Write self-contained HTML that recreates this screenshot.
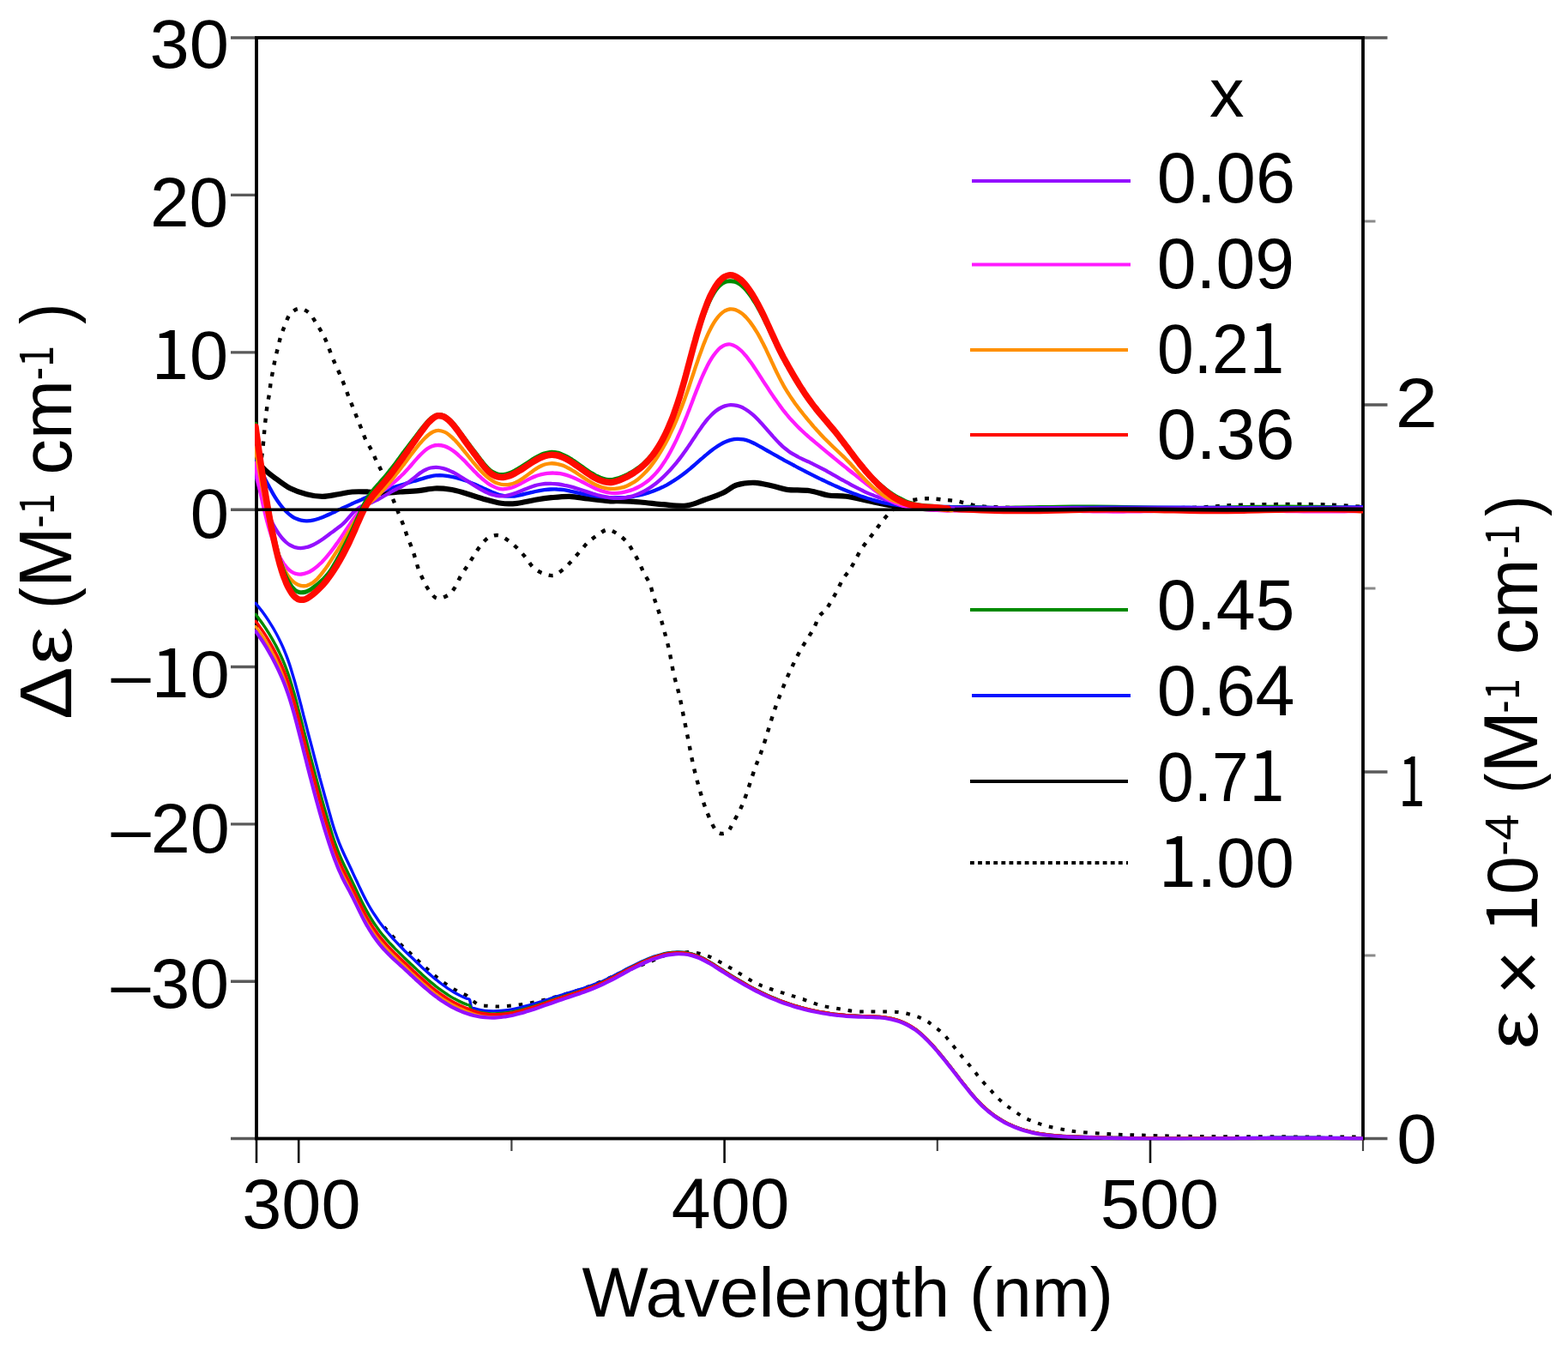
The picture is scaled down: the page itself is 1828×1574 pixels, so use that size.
<!DOCTYPE html><html><head><meta charset="utf-8"><title>CD and absorption spectra</title>
<style>html,body{margin:0;padding:0;background:#fff;width:1828px;height:1574px;overflow:hidden}svg{display:block}text{font-family:"Liberation Sans",Arial,Helvetica,sans-serif;fill:#000}</style></head><body>
<svg width="1828" height="1574" viewBox="0 0 1828 1574">
<rect width="1828" height="1574" fill="#fff"/>
<defs><clipPath id="pc"><rect x="297" y="44" width="1292" height="1285.5"/></clipPath></defs>
<path d="M269,44 H299 M269,227.4 H299 M269,410.9 H299 M269,594.2 H299 M269,777.5 H299 M269,960.9 H299 M269,1144.3 H299 M269,1327.5 H299 M1589,44 H1617.5 M1589,472 H1617.5 M1589,900 H1617.5 M1589,1327.5 H1617.5" stroke="#5a5a5a" stroke-width="3.4" fill="none"/>
<path d="M1589,258 H1603.5 M1589,686 H1603.5 M1589,1114 H1603.5" stroke="#8a8a8a" stroke-width="3" fill="none"/>
<path d="M299,1327.5 V1356 M348.2,1327.5 V1356 M844.6,1327.5 V1356 M1341,1327.5 V1356" stroke="#111" stroke-width="2.6" fill="none"/>
<path d="M596.4,1327.5 V1342 M1092.8,1327.5 V1342 M1589,1327.5 V1342" stroke="#444" stroke-width="2.2" fill="none"/>
<rect x="299" y="44" width="1290" height="1283.5" fill="none" stroke="#000" stroke-width="3.8"/>
<g clip-path="url(#pc)" fill="none" stroke-linejoin="round" stroke-linecap="butt">
<path d="M447.9,1080.7 C448.8,1081.8 451.6,1085.1 453.5,1087.2 C455.5,1089.3 457.4,1091.3 459.4,1093.4 C461.4,1095.4 463.5,1097.4 465.5,1099.5 C467.5,1101.5 469.6,1103.5 471.6,1105.4 C473.7,1107.3 475.7,1109.0 477.7,1110.8 C479.7,1112.7 481.8,1114.6 483.8,1116.5 C485.8,1118.4 487.8,1120.4 489.8,1122.3 C491.9,1124.2 493.9,1126.1 496.0,1127.9 C498.0,1129.8 500.1,1131.6 502.2,1133.4 C504.3,1135.3 506.4,1137.1 508.6,1138.8 C510.7,1140.6 512.9,1142.3 515.2,1144.0 C517.4,1145.6 519.7,1147.2 522.0,1148.8 C524.3,1150.3 526.6,1151.8 529.0,1153.2 C531.4,1154.6 533.9,1156.0 536.4,1157.3 C538.9,1158.5 540.6,1158.6 544.0,1160.8 C547.5,1163.1 552.7,1168.8 557.2,1170.8 C561.7,1172.8 566.2,1172.6 570.8,1173.0 C575.4,1173.4 579.3,1173.7 585.0,1173.4 C590.7,1173.2 598.3,1172.4 605.0,1171.5 C611.7,1170.6 618.3,1169.4 625.0,1168.0 C631.7,1166.6 638.4,1164.8 645.0,1163.0 C651.6,1161.2 657.9,1159.5 664.4,1157.5 C670.9,1155.5 677.4,1153.4 684.0,1151.0 C690.6,1148.6 696.1,1146.2 703.8,1143.0 C711.5,1139.8 721.2,1135.5 730.0,1132.0 C738.8,1128.5 748.8,1125.0 756.3,1122.0 C763.8,1119.0 768.9,1115.8 775.0,1114.0 C781.1,1112.2 787.8,1111.6 793.0,1111.0 C798.2,1110.4 801.7,1109.9 806.2,1110.2 C810.7,1110.5 815.6,1111.7 820.0,1113.0 C824.4,1114.3 826.5,1115.0 832.5,1118.0 C838.5,1121.0 848.1,1126.6 856.0,1131.2 C863.9,1135.8 872.8,1142.0 879.8,1145.6 C886.8,1149.2 891.9,1150.8 898.0,1153.0 C904.1,1155.2 910.2,1156.8 916.5,1158.8 C922.8,1160.8 929.4,1162.8 936.0,1165.0 C942.6,1167.2 949.2,1170.2 956.0,1172.0 C962.8,1173.8 970.0,1174.8 977.0,1176.0 C984.0,1177.2 990.8,1178.7 998.0,1179.3 C1005.2,1179.9 1011.7,1179.4 1020.0,1179.5 C1028.3,1179.6 1040.3,1179.2 1047.8,1180.0 C1055.3,1180.8 1059.9,1182.5 1065.0,1184.0 C1070.1,1185.5 1074.6,1187.2 1078.4,1189.2 C1082.2,1191.2 1084.6,1193.5 1088.0,1196.0 C1091.4,1198.5 1095.5,1201.5 1098.7,1204.5 C1101.9,1207.5 1104.2,1210.6 1107.0,1214.0 C1109.8,1217.4 1112.7,1221.1 1115.7,1224.8 C1118.7,1228.5 1121.9,1232.3 1125.0,1236.0 C1128.1,1239.7 1131.3,1243.2 1134.3,1246.9 C1137.3,1250.6 1139.9,1254.3 1143.0,1258.0 C1146.1,1261.7 1149.8,1265.4 1153.0,1268.9 C1156.2,1272.4 1158.9,1275.9 1162.0,1279.0 C1165.1,1282.1 1168.4,1284.9 1171.7,1287.6 C1175.0,1290.3 1178.3,1292.5 1182.0,1295.0 C1185.7,1297.5 1189.5,1300.5 1193.7,1302.8 C1197.9,1305.0 1202.5,1306.8 1207.0,1308.5 C1211.5,1310.2 1215.3,1311.6 1220.8,1313.0 C1226.3,1314.4 1233.8,1315.9 1240.0,1317.0 C1246.2,1318.1 1249.9,1319.0 1258.2,1319.8 C1266.5,1320.6 1279.8,1321.4 1290.0,1322.0 C1300.2,1322.6 1300.9,1322.7 1319.2,1323.2 C1337.5,1323.7 1355.0,1324.6 1400.0,1325.0 C1445.0,1325.4 1557.5,1325.4 1589.0,1325.5" stroke="#000" stroke-width="4" stroke-dasharray="4.6 9"/>
<path d="M298.0,703.3 C298.9,704.4 301.5,707.5 303.1,709.6 C304.8,711.7 306.5,713.9 308.1,716.2 C309.7,718.4 311.3,720.8 312.8,723.1 C314.3,725.5 315.8,727.9 317.3,730.4 C318.8,732.8 320.2,735.4 321.7,738.0 C323.1,740.6 324.5,743.3 325.8,746.0 C327.2,748.8 328.5,751.6 329.8,754.5 C331.1,757.4 332.3,760.5 333.5,763.5 C334.7,766.6 335.9,769.8 337.0,773.1 C338.1,776.3 339.1,779.6 340.1,782.9 C341.1,786.2 342.1,789.6 343.1,792.9 C344.0,796.3 345.0,799.7 345.9,803.1 C346.8,806.5 347.7,810.0 348.6,813.5 C349.5,816.9 350.4,820.4 351.3,823.8 C352.2,827.3 353.1,830.7 353.9,834.2 C354.8,837.6 355.7,841.1 356.6,844.5 C357.5,847.9 358.3,851.3 359.2,854.7 C360.1,858.1 361.0,861.5 361.9,864.9 C362.8,868.3 363.7,871.7 364.6,875.1 C365.5,878.5 366.4,882.0 367.3,885.6 C368.2,889.1 369.2,892.8 370.1,896.4 C371.0,900.0 372.0,903.5 372.9,907.1 C373.9,910.6 374.8,914.2 375.8,917.7 C376.8,921.2 377.7,924.7 378.7,928.2 C379.7,931.8 380.7,935.5 381.8,939.2 C382.8,942.9 383.8,946.8 384.9,950.5 C385.9,954.3 387.0,958.1 388.1,961.7 C389.2,965.3 390.3,968.8 391.5,972.1 C392.6,975.5 393.8,978.6 395.0,981.7 C396.3,984.8 397.5,987.8 398.8,990.8 C400.1,993.9 401.5,996.8 402.9,999.8 C404.3,1002.8 405.7,1005.7 407.2,1008.8 C408.6,1011.8 410.1,1015.0 411.5,1018.1 C412.9,1021.1 414.3,1024.1 415.7,1027.0 C417.1,1030.0 418.4,1032.9 419.8,1035.8 C421.1,1038.7 422.5,1041.5 423.9,1044.3 C425.3,1047.1 426.7,1049.8 428.2,1052.5 C429.6,1055.1 431.1,1057.7 432.7,1060.3 C434.2,1062.8 435.8,1065.3 437.5,1067.8 C439.1,1070.2 440.8,1072.7 442.5,1075.2 C444.3,1077.6 446.0,1079.9 447.9,1082.2 C449.7,1084.5 451.6,1086.8 453.5,1089.0 C455.5,1091.2 457.4,1093.4 459.4,1095.6 C461.4,1097.7 463.5,1099.9 465.5,1102.0 C467.5,1104.2 469.6,1106.3 471.6,1108.4 C473.7,1110.4 475.7,1112.2 477.7,1114.2 C479.7,1116.1 481.8,1118.1 483.8,1120.0 C485.8,1122.0 487.8,1123.9 489.8,1125.8 C491.9,1127.7 493.9,1129.6 496.0,1131.4 C498.0,1133.3 500.1,1135.1 502.2,1136.9 C504.3,1138.8 506.4,1140.6 508.6,1142.3 C510.7,1144.1 512.9,1145.8 515.2,1147.5 C517.4,1149.1 519.7,1150.7 522.0,1152.3 C524.3,1153.8 526.6,1155.3 529.0,1156.7 C531.4,1158.1 533.9,1159.5 536.4,1160.8 C538.9,1162.0 542.2,1163.5 544.0,1164.3 C545.9,1165.1 546.6,1163.9 547.5,1165.6 C548.4,1167.3 548.7,1173.1 549.5,1174.8 C550.3,1176.5 550.2,1175.2 552.1,1175.6 C554.0,1176.1 557.7,1177.1 560.6,1177.6 C563.5,1178.1 566.5,1178.5 569.7,1178.7 C572.8,1178.9 576.2,1178.9 579.4,1178.8 C582.6,1178.7 585.9,1178.4 589.0,1178.0 C592.1,1177.7 595.1,1177.2 598.0,1176.6 C601.0,1176.1 603.8,1175.4 606.7,1174.7 C609.5,1174.1 612.3,1173.3 615.1,1172.5 C617.9,1171.8 620.6,1170.9 623.3,1170.1 C626.0,1169.3 628.7,1168.4 631.4,1167.6 C634.1,1166.7 636.8,1165.8 639.4,1165.0 C642.1,1164.1 644.8,1163.2 647.4,1162.4 C650.1,1161.5 652.8,1160.7 655.5,1159.9 C658.2,1159.0 660.9,1158.2 663.6,1157.4 C666.3,1156.6 669.0,1155.8 671.7,1154.9 C674.4,1154.1 677.1,1153.2 679.8,1152.4 C682.4,1151.5 685.1,1150.6 687.8,1149.6 C690.4,1148.7 693.0,1147.7 695.6,1146.7 C698.2,1145.7 700.8,1144.6 703.4,1143.5 C705.9,1142.3 708.4,1141.1 710.9,1139.9 C713.4,1138.7 715.8,1137.4 718.2,1136.2 C720.7,1134.9 723.1,1133.6 725.5,1132.4 C727.9,1131.1 730.3,1129.8 732.7,1128.6 C735.1,1127.4 737.6,1126.1 740.0,1124.9 C742.4,1123.7 744.9,1122.5 747.4,1121.4 C749.8,1120.3 752.3,1119.2 754.9,1118.1 C757.4,1117.1 759.9,1116.1 762.5,1115.2 C765.1,1114.4 767.8,1113.5 770.5,1112.8 C773.2,1112.1 776.0,1111.5 778.9,1111.0 C781.7,1110.6 784.6,1110.2 787.7,1110.1 C790.8,1110.0 794.1,1110.1 797.3,1110.4 C800.5,1110.7 803.7,1111.4 806.7,1112.1 C809.7,1112.9 812.4,1114.0 815.1,1115.1 C817.8,1116.2 820.3,1117.6 822.8,1118.9 C825.3,1120.3 827.7,1121.7 830.1,1123.2 C832.4,1124.6 834.7,1126.1 837.1,1127.6 C839.4,1129.1 841.7,1130.5 844.0,1132.0 C846.3,1133.5 848.6,1134.9 850.9,1136.4 C853.2,1137.8 855.6,1139.2 857.9,1140.6 C860.2,1142.0 862.6,1143.5 865.0,1144.8 C867.3,1146.2 869.7,1147.6 872.1,1148.9 C874.5,1150.2 876.9,1151.5 879.3,1152.8 C881.7,1154.1 884.2,1155.3 886.6,1156.5 C889.1,1157.7 891.6,1158.9 894.1,1160.1 C896.6,1161.2 899.1,1162.3 901.7,1163.4 C904.2,1164.5 906.8,1165.5 909.4,1166.5 C912.0,1167.5 914.7,1168.5 917.3,1169.4 C920.0,1170.3 922.7,1171.2 925.4,1172.1 C928.1,1172.9 930.8,1173.7 933.6,1174.5 C936.4,1175.2 939.2,1176.0 942.0,1176.7 C944.9,1177.3 947.7,1178.0 950.6,1178.6 C953.5,1179.2 956.4,1179.8 959.4,1180.3 C962.3,1180.8 965.3,1181.3 968.3,1181.7 C971.3,1182.1 974.3,1182.5 977.4,1182.8 C980.5,1183.2 983.6,1183.5 986.7,1183.7 C989.9,1184.0 993.0,1184.2 996.2,1184.3 C999.4,1184.5 1002.7,1184.6 1005.9,1184.7 C1009.2,1184.8 1012.5,1184.8 1015.8,1184.9 C1019.0,1185.1 1022.3,1185.2 1025.5,1185.5 C1028.7,1185.8 1031.9,1186.2 1035.0,1186.7 C1038.0,1187.2 1041.0,1187.9 1043.9,1188.7 C1046.8,1189.5 1049.6,1190.5 1052.2,1191.6 C1054.9,1192.7 1057.5,1194.0 1060.0,1195.4 C1062.5,1196.8 1064.9,1198.3 1067.2,1200.0 C1069.5,1201.6 1071.7,1203.4 1073.8,1205.3 C1076.0,1207.1 1078.0,1209.1 1080.0,1211.0 C1082.1,1213.0 1084.0,1215.1 1086.0,1217.2 C1087.9,1219.3 1089.8,1221.4 1091.6,1223.6 C1093.5,1225.7 1095.3,1227.9 1097.2,1230.1 C1099.0,1232.4 1100.8,1234.6 1102.6,1236.8 C1104.3,1239.1 1106.1,1241.3 1107.9,1243.6 C1109.7,1245.8 1111.4,1248.1 1113.2,1250.4 C1114.9,1252.6 1116.7,1254.9 1118.4,1257.2 C1120.2,1259.4 1121.9,1261.7 1123.7,1263.9 C1125.4,1266.1 1127.2,1268.3 1129.0,1270.5 C1130.7,1272.7 1132.5,1274.9 1134.3,1277.0 C1136.2,1279.1 1138.0,1281.2 1139.8,1283.2 C1141.7,1285.2 1143.6,1287.1 1145.5,1289.0 C1147.5,1290.9 1149.5,1292.7 1151.5,1294.4 C1153.6,1296.1 1155.7,1297.8 1157.8,1299.4 C1160.0,1300.9 1162.2,1302.4 1164.4,1303.8 C1166.7,1305.3 1169.0,1306.6 1171.3,1307.9 C1173.7,1309.2 1176.1,1310.4 1178.6,1311.5 C1181.1,1312.7 1183.6,1313.7 1186.2,1314.7 C1188.8,1315.7 1191.4,1316.6 1194.1,1317.4 C1196.8,1318.2 1199.5,1318.9 1202.3,1319.6 C1205.1,1320.3 1208.0,1320.9 1210.9,1321.4 C1213.8,1321.9 1216.8,1322.3 1219.8,1322.7 C1222.8,1323.1 1225.9,1323.4 1229.0,1323.7 C1232.1,1324.0 1235.3,1324.2 1238.5,1324.4 C1241.6,1324.5 1244.9,1324.7 1248.1,1324.8 C1251.3,1324.9 1254.6,1325.1 1257.8,1325.2 C1261.1,1325.3 1264.3,1325.4 1267.6,1325.5 C1270.8,1325.6 1274.1,1325.7 1277.4,1325.8 C1280.6,1325.9 1283.9,1326.0 1287.2,1326.1 C1290.4,1326.1 1293.7,1326.2 1297.0,1326.3 C1300.3,1326.3 1303.6,1326.4 1306.9,1326.4 C1310.2,1326.5 1313.5,1326.5 1316.8,1326.6 C1320.1,1326.6 1323.4,1326.7 1326.7,1326.7 C1330.0,1326.7 1333.3,1326.8 1336.6,1326.8 C1339.9,1326.8 1343.3,1326.8 1346.6,1326.8 C1349.9,1326.9 1353.2,1326.9 1356.6,1326.9 C1359.9,1326.9 1363.2,1326.9 1366.5,1326.9 C1369.9,1326.9 1373.2,1326.9 1376.5,1326.9 C1379.9,1326.9 1383.2,1326.9 1386.5,1326.9 C1389.9,1326.9 1393.2,1326.9 1396.5,1326.8 C1399.8,1326.8 1403.1,1326.8 1406.5,1326.8 C1409.8,1326.8 1413.1,1326.8 1416.4,1326.8 C1419.8,1326.7 1423.1,1326.7 1426.4,1326.7 C1429.7,1326.7 1433.0,1326.7 1436.3,1326.6 C1439.7,1326.6 1443.0,1326.6 1446.3,1326.6 C1449.6,1326.5 1452.9,1326.5 1456.2,1326.5 C1459.6,1326.5 1462.9,1326.5 1466.2,1326.4 C1469.5,1326.4 1472.8,1326.4 1476.1,1326.4 C1479.5,1326.4 1482.8,1326.4 1486.1,1326.3 C1489.4,1326.3 1492.7,1326.3 1496.1,1326.3 C1499.4,1326.3 1502.7,1326.3 1506.0,1326.3 C1509.4,1326.3 1512.7,1326.3 1516.0,1326.3 C1519.4,1326.3 1522.7,1326.3 1526.0,1326.3 C1529.4,1326.3 1532.7,1326.3 1536.0,1326.3 C1539.3,1326.4 1542.7,1326.4 1546.0,1326.4 C1549.3,1326.4 1552.6,1326.5 1555.9,1326.5 C1559.3,1326.5 1562.6,1326.6 1565.9,1326.6 C1569.2,1326.7 1572.5,1326.7 1575.8,1326.7 C1579.1,1326.8 1583.5,1326.9 1585.7,1326.9 C1587.9,1327.0 1588.4,1327.0 1589.0,1327.0" stroke="#0514ff" stroke-width="3.4" stroke-linecap="round"/>
<path d="M298.0,716.4 C298.9,717.5 301.5,720.8 303.1,723.1 C304.8,725.3 306.5,727.7 308.1,730.1 C309.7,732.4 311.3,734.9 312.8,737.4 C314.3,739.8 315.8,742.4 317.3,744.9 C318.8,747.5 320.2,750.2 321.7,752.9 C323.1,755.6 324.5,758.3 325.8,761.1 C327.2,764.0 328.5,766.9 329.8,769.9 C331.1,772.9 332.3,775.9 333.5,779.1 C334.7,782.3 335.9,785.5 337.0,788.8 C338.1,792.1 339.1,795.5 340.1,798.8 C341.1,802.2 342.1,805.6 343.1,809.0 C344.0,812.4 345.0,815.9 345.9,819.3 C346.8,822.8 347.7,826.3 348.6,829.8 C349.5,833.2 350.4,836.7 351.3,840.2 C352.2,843.7 353.1,847.2 353.9,850.6 C354.8,854.1 355.7,857.6 356.6,861.0 C357.5,864.5 358.3,867.9 359.2,871.3 C360.1,874.8 361.0,878.2 361.9,881.6 C362.8,885.0 363.7,888.4 364.6,891.9 C365.5,895.3 366.4,898.8 367.3,902.2 C368.2,905.7 369.2,909.3 370.1,912.8 C371.0,916.3 372.0,919.8 372.9,923.3 C373.9,926.8 374.8,930.2 375.8,933.7 C376.8,937.1 377.7,940.5 378.7,944.0 C379.7,947.4 380.7,950.9 381.8,954.4 C382.8,958.0 383.8,961.5 384.9,965.0 C385.9,968.6 387.0,972.1 388.1,975.5 C389.2,978.9 390.3,982.2 391.5,985.4 C392.6,988.6 393.8,991.6 395.0,994.6 C396.3,997.7 397.5,1000.6 398.8,1003.5 C400.1,1006.4 401.5,1009.2 402.9,1012.1 C404.3,1015.0 405.7,1017.8 407.2,1020.7 C408.6,1023.6 410.1,1026.6 411.5,1029.6 C412.9,1032.5 414.3,1035.5 415.7,1038.4 C417.1,1041.3 418.4,1044.2 419.8,1047.0 C421.1,1049.9 422.5,1052.7 423.9,1055.4 C425.3,1058.1 426.7,1060.8 428.2,1063.4 C429.6,1066.0 431.1,1068.6 432.7,1071.1 C434.2,1073.6 435.8,1076.0 437.5,1078.4 C439.1,1080.8 440.8,1083.2 442.5,1085.5 C444.3,1087.8 446.0,1090.0 447.9,1092.2 C449.7,1094.4 451.6,1096.5 453.5,1098.6 C455.5,1100.7 457.4,1102.8 459.4,1104.8 C461.4,1106.9 463.5,1108.9 465.5,1110.9 C467.5,1112.9 469.6,1115.0 471.6,1116.9 C473.7,1118.9 475.7,1120.8 477.7,1122.7 C479.7,1124.6 481.8,1126.5 483.8,1128.4 C485.8,1130.4 487.8,1132.3 489.8,1134.1 C491.9,1136.0 493.9,1137.9 496.0,1139.7 C498.0,1141.5 500.1,1143.3 502.2,1145.1 C504.3,1146.8 506.4,1148.6 508.6,1150.3 C510.7,1152.0 512.9,1153.6 515.2,1155.2 C517.4,1156.8 519.7,1158.4 522.0,1159.8 C524.3,1161.3 526.6,1162.7 529.0,1164.1 C531.4,1165.4 533.9,1166.7 536.4,1167.9 C538.9,1169.1 542.2,1170.5 544.0,1171.2 C545.9,1172.0 546.6,1171.3 547.5,1172.4 C548.4,1173.5 548.7,1176.7 549.5,1177.7 C550.3,1178.7 550.2,1178.1 552.1,1178.5 C554.0,1179.0 557.7,1180.0 560.6,1180.5 C563.5,1181.0 566.5,1181.4 569.7,1181.6 C572.8,1181.8 576.2,1181.9 579.4,1181.8 C582.6,1181.7 585.9,1181.4 589.0,1181.0 C592.1,1180.7 595.1,1180.2 598.0,1179.6 C601.0,1179.0 603.8,1178.3 606.7,1177.6 C609.5,1176.9 612.3,1176.1 615.1,1175.3 C617.9,1174.5 620.6,1173.6 623.3,1172.8 C626.0,1171.9 628.7,1171.0 631.4,1170.1 C634.1,1169.2 636.8,1168.3 639.4,1167.4 C642.1,1166.5 644.8,1165.6 647.4,1164.7 C650.1,1163.8 652.8,1162.9 655.5,1162.0 C658.2,1161.2 660.9,1160.3 663.6,1159.5 C666.3,1158.6 669.0,1157.7 671.7,1156.9 C674.4,1156.0 677.1,1155.1 679.8,1154.2 C682.4,1153.2 685.1,1152.3 687.8,1151.3 C690.4,1150.3 693.0,1149.3 695.6,1148.3 C698.2,1147.2 700.8,1146.1 703.4,1144.9 C705.9,1143.7 708.4,1142.5 710.9,1141.2 C713.4,1140.0 715.8,1138.7 718.2,1137.4 C720.7,1136.1 723.1,1134.8 725.5,1133.5 C727.9,1132.2 730.3,1130.9 732.7,1129.6 C735.1,1128.3 737.6,1127.0 740.0,1125.8 C742.4,1124.6 744.9,1123.4 747.4,1122.2 C749.8,1121.0 752.3,1119.9 754.9,1118.8 C757.4,1117.8 759.9,1116.7 762.5,1115.8 C765.1,1114.9 767.8,1114.0 770.5,1113.3 C773.2,1112.5 776.0,1111.8 778.9,1111.3 C781.7,1110.8 784.6,1110.4 787.7,1110.3 C790.8,1110.1 794.1,1110.1 797.3,1110.4 C800.5,1110.7 803.7,1111.4 806.7,1112.1 C809.7,1112.9 812.4,1114.0 815.1,1115.1 C817.8,1116.2 820.3,1117.6 822.8,1118.9 C825.3,1120.3 827.7,1121.7 830.1,1123.2 C832.4,1124.6 834.7,1126.1 837.1,1127.6 C839.4,1129.1 841.7,1130.5 844.0,1132.0 C846.3,1133.5 848.6,1134.9 850.9,1136.4 C853.2,1137.8 855.6,1139.2 857.9,1140.6 C860.2,1142.0 862.6,1143.5 865.0,1144.8 C867.3,1146.2 869.7,1147.6 872.1,1148.9 C874.5,1150.2 876.9,1151.5 879.3,1152.8 C881.7,1154.1 884.2,1155.3 886.6,1156.5 C889.1,1157.7 891.6,1158.9 894.1,1160.1 C896.6,1161.2 899.1,1162.3 901.7,1163.4 C904.2,1164.5 906.8,1165.5 909.4,1166.5 C912.0,1167.5 914.7,1168.5 917.3,1169.4 C920.0,1170.3 922.7,1171.2 925.4,1172.1 C928.1,1172.9 930.8,1173.7 933.6,1174.5 C936.4,1175.2 939.2,1176.0 942.0,1176.7 C944.9,1177.3 947.7,1178.0 950.6,1178.6 C953.5,1179.2 956.4,1179.8 959.4,1180.3 C962.3,1180.8 965.3,1181.3 968.3,1181.7 C971.3,1182.1 974.3,1182.5 977.4,1182.8 C980.5,1183.2 983.6,1183.5 986.7,1183.7 C989.9,1184.0 993.0,1184.2 996.2,1184.3 C999.4,1184.5 1002.7,1184.6 1005.9,1184.7 C1009.2,1184.8 1012.5,1184.8 1015.8,1184.9 C1019.0,1185.1 1022.3,1185.2 1025.5,1185.5 C1028.7,1185.8 1031.9,1186.2 1035.0,1186.7 C1038.0,1187.2 1041.0,1187.9 1043.9,1188.7 C1046.8,1189.5 1049.6,1190.5 1052.2,1191.6 C1054.9,1192.7 1057.5,1194.0 1060.0,1195.4 C1062.5,1196.8 1064.9,1198.3 1067.2,1200.0 C1069.5,1201.6 1071.7,1203.4 1073.8,1205.3 C1076.0,1207.1 1078.0,1209.1 1080.0,1211.1 C1082.1,1213.1 1084.0,1215.1 1086.0,1217.2 C1087.9,1219.3 1089.8,1221.4 1091.6,1223.6 C1093.5,1225.8 1095.3,1228.0 1097.2,1230.2 C1099.0,1232.4 1100.8,1234.6 1102.6,1236.9 C1104.3,1239.1 1106.1,1241.4 1107.9,1243.6 C1109.7,1245.9 1111.4,1248.2 1113.2,1250.4 C1114.9,1252.7 1116.7,1254.9 1118.4,1257.2 C1120.2,1259.5 1121.9,1261.7 1123.7,1263.9 C1125.4,1266.2 1127.2,1268.4 1129.0,1270.6 C1130.7,1272.7 1132.5,1274.9 1134.3,1277.0 C1136.2,1279.1 1138.0,1281.2 1139.8,1283.2 C1141.7,1285.2 1143.6,1287.2 1145.5,1289.1 C1147.5,1290.9 1149.5,1292.7 1151.5,1294.5 C1153.6,1296.2 1155.7,1297.8 1157.8,1299.4 C1160.0,1301.0 1162.2,1302.5 1164.4,1303.9 C1166.7,1305.3 1169.0,1306.7 1171.3,1308.0 C1173.7,1309.3 1176.1,1310.5 1178.6,1311.6 C1181.1,1312.7 1183.6,1313.8 1186.2,1314.8 C1188.8,1315.7 1191.4,1316.6 1194.1,1317.5 C1196.8,1318.3 1199.5,1319.0 1202.3,1319.7 C1205.1,1320.3 1208.0,1320.9 1210.9,1321.5 C1213.8,1322.0 1216.8,1322.4 1219.8,1322.8 C1222.8,1323.2 1225.9,1323.5 1229.0,1323.8 C1232.1,1324.0 1235.3,1324.2 1238.5,1324.4 C1241.6,1324.6 1244.9,1324.8 1248.1,1324.9 C1251.3,1325.0 1254.6,1325.1 1257.8,1325.3 C1261.1,1325.4 1264.3,1325.5 1267.6,1325.6 C1270.8,1325.7 1274.1,1325.8 1277.4,1325.9 C1280.6,1326.0 1283.9,1326.1 1287.2,1326.2 C1290.4,1326.2 1293.7,1326.3 1297.0,1326.4 C1300.3,1326.4 1303.6,1326.5 1306.9,1326.5 C1310.2,1326.6 1313.5,1326.7 1316.8,1326.7 C1320.1,1326.7 1323.4,1326.8 1326.7,1326.8 C1330.0,1326.8 1333.3,1326.9 1336.6,1326.9 C1339.9,1326.9 1343.3,1326.9 1346.6,1327.0 C1349.9,1327.0 1353.2,1327.0 1356.6,1327.0 C1359.9,1327.0 1363.2,1327.0 1366.5,1327.0 C1369.9,1327.0 1373.2,1327.0 1376.5,1327.0 C1379.9,1327.0 1383.2,1327.0 1386.5,1327.0 C1389.9,1327.0 1393.2,1327.0 1396.5,1327.0 C1399.8,1327.0 1403.1,1327.0 1406.5,1326.9 C1409.8,1326.9 1413.1,1326.9 1416.4,1326.9 C1419.8,1326.9 1423.1,1326.9 1426.4,1326.8 C1429.7,1326.8 1433.0,1326.8 1436.3,1326.8 C1439.7,1326.8 1443.0,1326.7 1446.3,1326.7 C1449.6,1326.7 1452.9,1326.7 1456.2,1326.7 C1459.6,1326.6 1462.9,1326.6 1466.2,1326.6 C1469.5,1326.6 1472.8,1326.6 1476.1,1326.6 C1479.5,1326.5 1482.8,1326.5 1486.1,1326.5 C1489.4,1326.5 1492.7,1326.5 1496.1,1326.5 C1499.4,1326.5 1502.7,1326.5 1506.0,1326.5 C1509.4,1326.5 1512.7,1326.5 1516.0,1326.5 C1519.4,1326.5 1522.7,1326.5 1526.0,1326.5 C1529.4,1326.5 1532.7,1326.5 1536.0,1326.5 C1539.3,1326.5 1542.7,1326.6 1546.0,1326.6 C1549.3,1326.6 1552.6,1326.6 1555.9,1326.7 C1559.3,1326.7 1562.6,1326.8 1565.9,1326.8 C1569.2,1326.8 1572.5,1326.9 1575.8,1326.9 C1579.1,1327.0 1583.5,1327.1 1585.7,1327.1 C1587.9,1327.2 1588.4,1327.2 1589.0,1327.2" stroke="#008a00" stroke-width="3.4" stroke-linecap="round"/>
<path d="M298.0,730.5 C298.9,731.7 301.5,735.2 303.1,737.6 C304.8,740.0 306.5,742.5 308.1,745.0 C309.7,747.5 311.3,750.0 312.8,752.7 C314.3,755.3 315.8,757.9 317.3,760.6 C318.8,763.3 320.2,766.1 321.7,768.9 C323.1,771.7 324.5,774.5 325.8,777.4 C327.2,780.3 328.5,783.3 329.8,786.4 C331.1,789.4 332.3,792.6 333.5,795.8 C334.7,799.1 335.9,802.4 337.0,805.8 C338.1,809.1 339.1,812.5 340.1,816.0 C341.1,819.4 342.1,822.9 343.1,826.3 C344.0,829.8 345.0,833.3 345.9,836.8 C346.8,840.3 347.7,843.8 348.6,847.3 C349.5,850.8 350.4,854.3 351.3,857.8 C352.2,861.3 353.1,864.8 353.9,868.3 C354.8,871.8 355.7,875.3 356.6,878.8 C357.5,882.3 358.3,885.7 359.2,889.2 C360.1,892.7 361.0,896.1 361.9,899.6 C362.8,903.0 363.7,906.4 364.6,909.9 C365.5,913.3 366.4,916.8 367.3,920.2 C368.2,923.6 369.2,927.1 370.1,930.5 C371.0,933.9 372.0,937.3 372.9,940.7 C373.9,944.1 374.8,947.5 375.8,950.8 C376.8,954.2 377.7,957.5 378.7,960.8 C379.7,964.2 380.7,967.5 381.8,970.8 C382.8,974.1 383.8,977.4 384.9,980.7 C385.9,983.9 387.0,987.2 388.1,990.3 C389.2,993.5 390.3,996.6 391.5,999.7 C392.6,1002.7 393.8,1005.7 395.0,1008.6 C396.3,1011.5 397.5,1014.3 398.8,1017.1 C400.1,1019.9 401.5,1022.6 402.9,1025.3 C404.3,1028.1 405.7,1030.7 407.2,1033.5 C408.6,1036.3 410.1,1039.1 411.5,1042.0 C412.9,1044.8 414.3,1047.7 415.7,1050.6 C417.1,1053.4 418.4,1056.3 419.8,1059.1 C421.1,1061.9 422.5,1064.6 423.9,1067.3 C425.3,1070.0 426.7,1072.6 428.2,1075.2 C429.6,1077.7 431.1,1080.2 432.7,1082.7 C434.2,1085.1 435.8,1087.5 437.5,1089.8 C439.1,1092.1 440.8,1094.4 442.5,1096.6 C444.3,1098.8 446.0,1100.9 447.9,1102.9 C449.7,1105.0 451.6,1107.0 453.5,1109.0 C455.5,1111.0 457.4,1112.9 459.4,1114.8 C461.4,1116.7 463.5,1118.6 465.5,1120.5 C467.5,1122.4 469.6,1124.3 471.6,1126.2 C473.7,1128.0 475.7,1129.9 477.7,1131.8 C479.7,1133.7 481.8,1135.6 483.8,1137.5 C485.8,1139.4 487.8,1141.3 489.8,1143.1 C491.9,1144.9 493.9,1146.8 496.0,1148.6 C498.0,1150.3 500.1,1152.1 502.2,1153.8 C504.3,1155.5 506.4,1157.2 508.6,1158.8 C510.7,1160.5 512.9,1162.0 515.2,1163.6 C517.4,1165.1 519.7,1166.5 522.0,1167.9 C524.3,1169.3 526.6,1170.7 529.0,1172.0 C531.4,1173.2 533.9,1174.4 536.4,1175.5 C538.9,1176.7 541.4,1177.7 544.0,1178.6 C546.7,1179.5 549.3,1180.3 552.1,1181.0 C554.9,1181.7 557.7,1182.4 560.6,1182.9 C563.5,1183.4 566.5,1183.7 569.7,1183.9 C572.8,1184.1 576.2,1184.1 579.4,1184.0 C582.6,1183.8 585.9,1183.5 589.0,1183.1 C592.1,1182.7 595.1,1182.2 598.0,1181.6 C601.0,1181.0 603.8,1180.3 606.7,1179.6 C609.5,1178.8 612.3,1178.0 615.1,1177.2 C617.9,1176.3 620.6,1175.4 623.3,1174.5 C626.0,1173.6 628.7,1172.7 631.4,1171.8 C634.1,1170.9 636.8,1169.9 639.4,1169.0 C642.1,1168.0 644.8,1167.1 647.4,1166.2 C650.1,1165.3 652.8,1164.4 655.5,1163.5 C658.2,1162.6 660.9,1161.7 663.6,1160.8 C666.3,1159.9 669.0,1159.0 671.7,1158.1 C674.4,1157.2 677.1,1156.3 679.8,1155.4 C682.4,1154.4 685.1,1153.4 687.8,1152.4 C690.4,1151.4 693.0,1150.4 695.6,1149.3 C698.2,1148.2 700.8,1147.1 703.4,1145.9 C705.9,1144.7 708.4,1143.5 710.9,1142.2 C713.4,1141.0 715.8,1139.7 718.2,1138.4 C720.7,1137.1 723.1,1135.8 725.5,1134.5 C727.9,1133.2 730.3,1131.9 732.7,1130.6 C735.1,1129.3 737.6,1128.0 740.0,1126.8 C742.4,1125.6 744.9,1124.4 747.4,1123.2 C749.8,1122.0 752.3,1120.9 754.9,1119.8 C757.4,1118.8 759.9,1117.7 762.5,1116.8 C765.1,1115.9 767.8,1115.0 770.5,1114.3 C773.2,1113.5 776.0,1112.8 778.9,1112.3 C781.7,1111.8 784.6,1111.4 787.7,1111.3 C790.8,1111.1 794.1,1111.1 797.3,1111.4 C800.5,1111.7 803.7,1112.3 806.7,1113.1 C809.7,1113.9 812.4,1114.9 815.1,1116.0 C817.8,1117.2 820.3,1118.5 822.8,1119.8 C825.3,1121.2 827.7,1122.6 830.1,1124.0 C832.4,1125.5 834.7,1127.0 837.1,1128.4 C839.4,1129.9 841.7,1131.4 844.0,1132.8 C846.3,1134.3 848.6,1135.7 850.9,1137.2 C853.2,1138.6 855.6,1140.0 857.9,1141.4 C860.2,1142.8 862.6,1144.2 865.0,1145.6 C867.3,1146.9 869.7,1148.3 872.1,1149.6 C874.5,1150.9 876.9,1152.2 879.3,1153.5 C881.7,1154.8 884.2,1156.0 886.6,1157.2 C889.1,1158.4 891.6,1159.6 894.1,1160.7 C896.6,1161.9 899.1,1163.0 901.7,1164.0 C904.2,1165.1 906.8,1166.1 909.4,1167.1 C912.0,1168.1 914.7,1169.0 917.3,1170.0 C920.0,1170.9 922.7,1171.8 925.4,1172.6 C928.1,1173.4 930.8,1174.2 933.6,1175.0 C936.4,1175.7 939.2,1176.5 942.0,1177.1 C944.9,1177.8 947.7,1178.4 950.6,1179.0 C953.5,1179.6 956.4,1180.2 959.4,1180.7 C962.3,1181.2 965.3,1181.6 968.3,1182.1 C971.3,1182.5 974.3,1182.8 977.4,1183.2 C980.5,1183.5 983.6,1183.8 986.7,1184.0 C989.9,1184.3 993.0,1184.5 996.2,1184.6 C999.4,1184.8 1002.7,1184.8 1005.9,1184.9 C1009.2,1185.0 1012.5,1185.1 1015.8,1185.2 C1019.0,1185.3 1022.3,1185.5 1025.5,1185.8 C1028.7,1186.1 1031.9,1186.4 1035.0,1187.0 C1038.0,1187.5 1041.0,1188.2 1043.9,1189.0 C1046.8,1189.8 1049.6,1190.8 1052.2,1191.9 C1054.9,1193.0 1057.5,1194.3 1060.0,1195.6 C1062.5,1197.0 1064.9,1198.6 1067.2,1200.2 C1069.5,1201.9 1071.7,1203.7 1073.8,1205.5 C1076.0,1207.4 1078.0,1209.3 1080.0,1211.3 C1082.1,1213.3 1084.0,1215.4 1086.0,1217.5 C1087.9,1219.6 1089.8,1221.7 1091.6,1223.9 C1093.5,1226.0 1095.3,1228.2 1097.2,1230.4 C1099.0,1232.6 1100.8,1234.9 1102.6,1237.1 C1104.3,1239.4 1106.1,1241.6 1107.9,1243.9 C1109.7,1246.1 1111.4,1248.4 1113.2,1250.7 C1114.9,1252.9 1116.7,1255.2 1118.4,1257.5 C1120.2,1259.7 1121.9,1262.0 1123.7,1264.2 C1125.4,1266.4 1127.2,1268.6 1129.0,1270.8 C1130.7,1273.0 1132.5,1275.2 1134.3,1277.3 C1136.2,1279.4 1138.0,1281.5 1139.8,1283.5 C1141.7,1285.5 1143.6,1287.4 1145.5,1289.3 C1147.5,1291.2 1149.5,1293.0 1151.5,1294.7 C1153.6,1296.4 1155.7,1298.1 1157.8,1299.7 C1160.0,1301.2 1162.2,1302.7 1164.4,1304.2 C1166.7,1305.6 1169.0,1307.0 1171.3,1308.2 C1173.7,1309.5 1176.1,1310.7 1178.6,1311.9 C1181.1,1313.0 1183.6,1314.0 1186.2,1315.0 C1188.8,1316.0 1191.4,1316.9 1194.1,1317.7 C1196.8,1318.5 1199.5,1319.3 1202.3,1319.9 C1205.1,1320.6 1208.0,1321.2 1210.9,1321.7 C1213.8,1322.2 1216.8,1322.7 1219.8,1323.1 C1222.8,1323.4 1225.9,1323.8 1229.0,1324.0 C1232.1,1324.3 1235.3,1324.5 1238.5,1324.7 C1241.6,1324.9 1244.9,1325.0 1248.1,1325.2 C1251.3,1325.3 1254.6,1325.4 1257.8,1325.5 C1261.1,1325.7 1264.3,1325.8 1267.6,1325.9 C1270.8,1326.0 1274.1,1326.1 1277.4,1326.2 C1280.6,1326.3 1283.9,1326.3 1287.2,1326.4 C1290.4,1326.5 1293.7,1326.6 1297.0,1326.6 C1300.3,1326.7 1303.6,1326.8 1306.9,1326.8 C1310.2,1326.9 1313.5,1326.9 1316.8,1327.0 C1320.1,1327.0 1323.4,1327.1 1326.7,1327.1 C1330.0,1327.1 1333.3,1327.2 1336.6,1327.2 C1339.9,1327.2 1343.3,1327.2 1346.6,1327.2 C1349.9,1327.3 1353.2,1327.3 1356.6,1327.3 C1359.9,1327.3 1363.2,1327.3 1366.5,1327.3 C1369.9,1327.3 1373.2,1327.3 1376.5,1327.3 C1379.9,1327.3 1383.2,1327.3 1386.5,1327.3 C1389.9,1327.3 1393.2,1327.3 1396.5,1327.3 C1399.8,1327.3 1403.1,1327.2 1406.5,1327.2 C1409.8,1327.2 1413.1,1327.2 1416.4,1327.2 C1419.8,1327.2 1423.1,1327.1 1426.4,1327.1 C1429.7,1327.1 1433.0,1327.1 1436.3,1327.1 C1439.7,1327.0 1443.0,1327.0 1446.3,1327.0 C1449.6,1327.0 1452.9,1327.0 1456.2,1326.9 C1459.6,1326.9 1462.9,1326.9 1466.2,1326.9 C1469.5,1326.9 1472.8,1326.9 1476.1,1326.8 C1479.5,1326.8 1482.8,1326.8 1486.1,1326.8 C1489.4,1326.8 1492.7,1326.8 1496.1,1326.8 C1499.4,1326.8 1502.7,1326.8 1506.0,1326.8 C1509.4,1326.8 1512.7,1326.8 1516.0,1326.8 C1519.4,1326.8 1522.7,1326.8 1526.0,1326.8 C1529.4,1326.8 1532.7,1326.8 1536.0,1326.8 C1539.3,1326.8 1542.7,1326.9 1546.0,1326.9 C1549.3,1326.9 1552.6,1326.9 1555.9,1327.0 C1559.3,1327.0 1562.6,1327.1 1565.9,1327.1 C1569.2,1327.1 1572.5,1327.2 1575.8,1327.2 C1579.1,1327.3 1583.5,1327.4 1585.7,1327.4 C1587.9,1327.5 1588.4,1327.5 1589.0,1327.5" stroke="#ff9000" stroke-width="3.4" stroke-linecap="round"/>
<path d="M298.0,724.3 C298.9,725.4 301.5,728.8 303.1,731.2 C304.8,733.5 306.5,735.9 308.1,738.4 C309.7,740.8 311.3,743.3 312.8,745.9 C314.3,748.4 315.8,751.0 317.3,753.7 C318.8,756.3 320.2,759.0 321.7,761.8 C323.1,764.5 324.5,767.3 325.8,770.2 C327.2,773.1 328.5,776.0 329.8,779.1 C331.1,782.1 332.3,785.2 333.5,788.4 C334.7,791.6 335.9,794.9 337.0,798.3 C338.1,801.6 339.1,805.0 340.1,808.4 C341.1,811.8 342.1,815.2 343.1,818.7 C344.0,822.1 345.0,825.6 345.9,829.1 C346.8,832.5 347.7,836.0 348.6,839.5 C349.5,843.0 350.4,846.5 351.3,850.0 C352.2,853.5 353.1,857.0 353.9,860.5 C354.8,864.0 355.7,867.5 356.6,870.9 C357.5,874.4 358.3,877.9 359.2,881.3 C360.1,884.8 361.0,888.2 361.9,891.6 C362.8,895.1 363.7,898.5 364.6,901.9 C365.5,905.4 366.4,908.8 367.3,912.3 C368.2,915.7 369.2,919.2 370.1,922.7 C371.0,926.1 372.0,929.6 372.9,933.0 C373.9,936.5 374.8,939.9 375.8,943.3 C376.8,946.6 377.7,950.0 378.7,953.4 C379.7,956.8 380.7,960.2 381.8,963.6 C382.8,967.0 383.8,970.4 384.9,973.8 C385.9,977.1 387.0,980.5 388.1,983.8 C389.2,987.0 390.3,990.3 391.5,993.4 C392.6,996.5 393.8,999.5 395.0,1002.4 C396.3,1005.4 397.5,1008.3 398.8,1011.1 C400.1,1014.0 401.5,1016.7 402.9,1019.5 C404.3,1022.3 405.7,1025.0 407.2,1027.8 C408.6,1030.7 410.1,1033.6 411.5,1036.5 C412.9,1039.4 414.3,1042.3 415.7,1045.2 C417.1,1048.1 418.4,1051.0 419.8,1053.8 C421.1,1056.6 422.5,1059.3 423.9,1062.0 C425.3,1064.7 426.7,1067.4 428.2,1070.0 C429.6,1072.5 431.1,1075.1 432.7,1077.5 C434.2,1080.0 435.8,1082.4 437.5,1084.7 C439.1,1087.1 440.8,1089.4 442.5,1091.7 C444.3,1093.9 446.0,1096.1 447.9,1098.2 C449.7,1100.3 451.6,1102.4 453.5,1104.4 C455.5,1106.5 457.4,1108.4 459.4,1110.4 C461.4,1112.4 463.5,1114.3 465.5,1116.3 C467.5,1118.2 469.6,1120.2 471.6,1122.1 C473.7,1124.0 475.7,1125.9 477.7,1127.8 C479.7,1129.7 481.8,1131.6 483.8,1133.5 C485.8,1135.4 487.8,1137.3 489.8,1139.1 C491.9,1141.0 493.9,1142.8 496.0,1144.6 C498.0,1146.4 500.1,1148.2 502.2,1150.0 C504.3,1151.7 506.4,1153.4 508.6,1155.1 C510.7,1156.7 512.9,1158.3 515.2,1159.9 C517.4,1161.4 519.7,1162.9 522.0,1164.4 C524.3,1165.8 526.6,1167.2 529.0,1168.5 C531.4,1169.8 533.9,1171.0 536.4,1172.2 C538.9,1173.3 541.4,1174.3 544.0,1175.4 C546.7,1176.5 549.3,1177.7 552.1,1178.7 C554.9,1179.7 557.7,1180.6 560.6,1181.2 C563.5,1181.8 566.5,1182.1 569.7,1182.4 C572.8,1182.6 576.2,1182.7 579.4,1182.6 C582.6,1182.5 585.9,1182.3 589.0,1181.9 C592.1,1181.6 595.1,1181.1 598.0,1180.6 C601.0,1180.0 603.8,1179.3 606.7,1178.6 C609.5,1177.8 612.3,1177.0 615.1,1176.2 C617.9,1175.4 620.6,1174.5 623.3,1173.6 C626.0,1172.7 628.7,1171.8 631.4,1170.9 C634.1,1169.9 636.8,1169.0 639.4,1168.1 C642.1,1167.2 644.8,1166.2 647.4,1165.3 C650.1,1164.4 652.8,1163.5 655.5,1162.6 C658.2,1161.7 660.9,1160.9 663.6,1160.0 C666.3,1159.1 669.0,1158.2 671.7,1157.3 C674.4,1156.4 677.1,1155.5 679.8,1154.6 C682.4,1153.6 685.1,1152.7 687.8,1151.7 C690.4,1150.7 693.0,1149.6 695.6,1148.5 C698.2,1147.5 700.8,1146.3 703.4,1145.2 C705.9,1144.0 708.4,1142.8 710.9,1141.5 C713.4,1140.3 715.8,1139.0 718.2,1137.7 C720.7,1136.4 723.1,1135.1 725.5,1133.8 C727.9,1132.5 730.3,1131.2 732.7,1129.9 C735.1,1128.7 737.6,1127.4 740.0,1126.2 C742.4,1124.9 744.9,1123.7 747.4,1122.6 C749.8,1121.4 752.3,1120.3 754.9,1119.2 C757.4,1118.2 759.9,1117.1 762.5,1116.2 C765.1,1115.3 767.8,1114.4 770.5,1113.7 C773.2,1112.9 776.0,1112.3 778.9,1111.8 C781.7,1111.3 784.6,1110.9 787.7,1110.7 C790.8,1110.6 794.1,1110.6 797.3,1110.9 C800.5,1111.2 803.7,1111.8 806.7,1112.6 C809.7,1113.4 812.4,1114.4 815.1,1115.5 C817.8,1116.7 820.3,1118.0 822.8,1119.3 C825.3,1120.7 827.7,1122.1 830.1,1123.6 C832.4,1125.0 834.7,1126.5 837.1,1128.0 C839.4,1129.4 841.7,1130.9 844.0,1132.4 C846.3,1133.8 848.6,1135.3 850.9,1136.7 C853.2,1138.1 855.6,1139.6 857.9,1141.0 C860.2,1142.4 862.6,1143.8 865.0,1145.1 C867.3,1146.5 869.7,1147.8 872.1,1149.2 C874.5,1150.5 876.9,1151.8 879.3,1153.1 C881.7,1154.3 884.2,1155.6 886.6,1156.8 C889.1,1158.0 891.6,1159.1 894.1,1160.3 C896.6,1161.4 899.1,1162.5 901.7,1163.6 C904.2,1164.6 906.8,1165.7 909.4,1166.7 C912.0,1167.7 914.7,1168.6 917.3,1169.5 C920.0,1170.4 922.7,1171.3 925.4,1172.2 C928.1,1173.0 930.8,1173.8 933.6,1174.6 C936.4,1175.3 939.2,1176.0 942.0,1176.7 C944.9,1177.4 947.7,1178.0 950.6,1178.6 C953.5,1179.2 956.4,1179.8 959.4,1180.3 C962.3,1180.8 965.3,1181.2 968.3,1181.7 C971.3,1182.1 974.3,1182.5 977.4,1182.8 C980.5,1183.1 983.6,1183.4 986.7,1183.6 C989.9,1183.9 993.0,1184.1 996.2,1184.2 C999.4,1184.4 1002.7,1184.5 1005.9,1184.6 C1009.2,1184.7 1012.5,1184.7 1015.8,1184.8 C1019.0,1185.0 1022.3,1185.1 1025.5,1185.4 C1028.7,1185.7 1031.9,1186.1 1035.0,1186.6 C1038.0,1187.2 1041.0,1187.8 1043.9,1188.6 C1046.8,1189.4 1049.6,1190.4 1052.2,1191.5 C1054.9,1192.6 1057.5,1193.9 1060.0,1195.3 C1062.5,1196.7 1064.9,1198.3 1067.2,1199.9 C1069.5,1201.6 1071.7,1203.4 1073.8,1205.2 C1076.0,1207.1 1078.0,1209.0 1080.0,1211.0 C1082.1,1213.0 1084.0,1215.1 1086.0,1217.2 C1087.9,1219.2 1089.8,1221.4 1091.6,1223.6 C1093.5,1225.7 1095.3,1227.9 1097.2,1230.1 C1099.0,1232.3 1100.8,1234.6 1102.6,1236.8 C1104.3,1239.1 1106.1,1241.3 1107.9,1243.6 C1109.7,1245.8 1111.4,1248.1 1113.2,1250.4 C1114.9,1252.6 1116.7,1254.9 1118.4,1257.2 C1120.2,1259.4 1121.9,1261.7 1123.7,1263.9 C1125.4,1266.1 1127.2,1268.4 1129.0,1270.5 C1130.7,1272.7 1132.5,1274.9 1134.3,1277.0 C1136.2,1279.1 1138.0,1281.2 1139.8,1283.2 C1141.7,1285.2 1143.6,1287.2 1145.5,1289.0 C1147.5,1290.9 1149.5,1292.7 1151.5,1294.4 C1153.6,1296.2 1155.7,1297.8 1157.8,1299.4 C1160.0,1301.0 1162.2,1302.5 1164.4,1303.9 C1166.7,1305.3 1169.0,1306.7 1171.3,1308.0 C1173.7,1309.3 1176.1,1310.5 1178.6,1311.6 C1181.1,1312.7 1183.6,1313.8 1186.2,1314.8 C1188.8,1315.7 1191.4,1316.6 1194.1,1317.5 C1196.8,1318.3 1199.5,1319.0 1202.3,1319.7 C1205.1,1320.4 1208.0,1321.0 1210.9,1321.5 C1213.8,1322.0 1216.8,1322.4 1219.8,1322.8 C1222.8,1323.2 1225.9,1323.5 1229.0,1323.8 C1232.1,1324.1 1235.3,1324.3 1238.5,1324.5 C1241.6,1324.7 1244.9,1324.8 1248.1,1325.0 C1251.3,1325.1 1254.6,1325.2 1257.8,1325.3 C1261.1,1325.5 1264.3,1325.6 1267.6,1325.7 C1270.8,1325.8 1274.1,1325.9 1277.4,1326.0 C1280.6,1326.1 1283.9,1326.2 1287.2,1326.2 C1290.4,1326.3 1293.7,1326.4 1297.0,1326.5 C1300.3,1326.5 1303.6,1326.6 1306.9,1326.6 C1310.2,1326.7 1313.5,1326.8 1316.8,1326.8 C1320.1,1326.8 1323.4,1326.9 1326.7,1326.9 C1330.0,1327.0 1333.3,1327.0 1336.6,1327.0 C1339.9,1327.0 1343.3,1327.1 1346.6,1327.1 C1349.9,1327.1 1353.2,1327.1 1356.6,1327.1 C1359.9,1327.2 1363.2,1327.2 1366.5,1327.2 C1369.9,1327.2 1373.2,1327.2 1376.5,1327.2 C1379.9,1327.2 1383.2,1327.2 1386.5,1327.2 C1389.9,1327.2 1393.2,1327.2 1396.5,1327.1 C1399.8,1327.1 1403.1,1327.1 1406.5,1327.1 C1409.8,1327.1 1413.1,1327.1 1416.4,1327.1 C1419.8,1327.1 1423.1,1327.0 1426.4,1327.0 C1429.7,1327.0 1433.0,1327.0 1436.3,1327.0 C1439.7,1327.0 1443.0,1326.9 1446.3,1326.9 C1449.6,1326.9 1452.9,1326.9 1456.2,1326.9 C1459.6,1326.8 1462.9,1326.8 1466.2,1326.8 C1469.5,1326.8 1472.8,1326.8 1476.1,1326.8 C1479.5,1326.8 1482.8,1326.7 1486.1,1326.7 C1489.4,1326.7 1492.7,1326.7 1496.1,1326.7 C1499.4,1326.7 1502.7,1326.7 1506.0,1326.7 C1509.4,1326.7 1512.7,1326.7 1516.0,1326.7 C1519.4,1326.7 1522.7,1326.7 1526.0,1326.7 C1529.4,1326.8 1532.7,1326.8 1536.0,1326.8 C1539.3,1326.8 1542.7,1326.8 1546.0,1326.9 C1549.3,1326.9 1552.6,1326.9 1555.9,1327.0 C1559.3,1327.0 1562.6,1327.0 1565.9,1327.1 C1569.2,1327.1 1572.5,1327.2 1575.8,1327.2 C1579.1,1327.3 1583.5,1327.4 1585.7,1327.4 C1587.9,1327.5 1588.4,1327.5 1589.0,1327.5" stroke="#ff0a00" stroke-width="3.4" stroke-linecap="round"/>
<path d="M298.0,736.0 C298.9,737.3 301.5,740.8 303.1,743.3 C304.8,745.8 306.5,748.3 308.1,750.9 C309.7,753.4 311.3,756.0 312.8,758.7 C314.3,761.4 315.8,764.1 317.3,766.8 C318.8,769.6 320.2,772.4 321.7,775.2 C323.1,778.0 324.5,780.9 325.8,783.8 C327.2,786.8 328.5,789.8 329.8,792.9 C331.1,796.0 332.3,799.2 333.5,802.4 C334.7,805.7 335.9,809.1 337.0,812.5 C338.1,815.8 339.1,819.3 340.1,822.7 C341.1,826.2 342.1,829.7 343.1,833.2 C344.0,836.6 345.0,840.2 345.9,843.7 C346.8,847.2 347.7,850.7 348.6,854.2 C349.5,857.7 350.4,861.3 351.3,864.8 C352.2,868.3 353.1,871.8 353.9,875.3 C354.8,878.8 355.7,882.3 356.6,885.8 C357.5,889.3 358.3,892.8 359.2,896.2 C360.1,899.7 361.0,903.2 361.9,906.6 C362.8,910.1 363.7,913.6 364.6,917.0 C365.5,920.4 366.4,923.9 367.3,927.3 C368.2,930.7 369.2,934.1 370.1,937.5 C371.0,940.9 372.0,944.3 372.9,947.6 C373.9,951.0 374.8,954.3 375.8,957.6 C376.8,960.9 377.7,964.2 378.7,967.5 C379.7,970.8 380.7,974.0 381.8,977.3 C382.8,980.5 383.8,983.7 384.9,986.8 C385.9,990.0 387.0,993.1 388.1,996.2 C389.2,999.3 390.3,1002.3 391.5,1005.3 C392.6,1008.3 393.8,1011.3 395.0,1014.1 C396.3,1017.0 397.5,1019.8 398.8,1022.5 C400.1,1025.3 401.5,1027.9 402.9,1030.6 C404.3,1033.2 405.7,1035.9 407.2,1038.6 C408.6,1041.3 410.1,1044.1 411.5,1046.9 C412.9,1049.7 414.3,1052.6 415.7,1055.4 C417.1,1058.2 418.4,1061.1 419.8,1063.9 C421.1,1066.6 422.5,1069.4 423.9,1072.0 C425.3,1074.7 426.7,1077.3 428.2,1079.8 C429.6,1082.3 431.1,1084.8 432.7,1087.2 C434.2,1089.7 435.8,1092.0 437.5,1094.3 C439.1,1096.6 440.8,1098.8 442.5,1101.0 C444.3,1103.1 446.0,1105.2 447.9,1107.2 C449.7,1109.2 451.6,1111.2 453.5,1113.1 C455.5,1115.0 457.4,1116.9 459.4,1118.7 C461.4,1120.6 463.5,1122.4 465.5,1124.2 C467.5,1126.1 469.6,1127.9 471.6,1129.8 C473.7,1131.7 475.7,1133.6 477.7,1135.4 C479.7,1137.3 481.8,1139.2 483.8,1141.1 C485.8,1142.9 487.8,1144.8 489.8,1146.6 C491.9,1148.5 493.9,1150.3 496.0,1152.1 C498.0,1153.8 500.1,1155.6 502.2,1157.3 C504.3,1159.0 506.4,1160.6 508.6,1162.2 C510.7,1163.8 512.9,1165.4 515.2,1166.9 C517.4,1168.3 519.7,1169.8 522.0,1171.2 C524.3,1172.5 526.6,1173.9 529.0,1175.1 C531.4,1176.3 533.9,1177.5 536.4,1178.6 C538.9,1179.7 541.4,1180.7 544.0,1181.6 C546.7,1182.5 549.3,1183.3 552.1,1184.0 C554.9,1184.7 557.7,1185.2 560.6,1185.7 C563.5,1186.1 566.5,1186.4 569.7,1186.5 C572.8,1186.6 576.2,1186.6 579.4,1186.4 C582.6,1186.2 585.9,1185.8 589.0,1185.3 C592.1,1184.9 595.1,1184.3 598.0,1183.7 C601.0,1183.0 603.8,1182.3 606.7,1181.5 C609.5,1180.8 612.3,1179.9 615.1,1179.1 C617.9,1178.2 620.6,1177.3 623.3,1176.4 C626.0,1175.5 628.7,1174.6 631.4,1173.6 C634.1,1172.7 636.8,1171.7 639.4,1170.8 C642.1,1169.8 644.8,1168.9 647.4,1168.0 C650.1,1167.0 652.8,1166.1 655.5,1165.2 C658.2,1164.3 660.9,1163.4 663.6,1162.5 C666.3,1161.6 669.0,1160.7 671.7,1159.8 C674.4,1158.9 677.1,1157.9 679.8,1157.0 C682.4,1156.0 685.1,1155.0 687.8,1154.0 C690.4,1153.0 693.0,1151.9 695.6,1150.8 C698.2,1149.7 700.8,1148.6 703.4,1147.4 C705.9,1146.2 708.4,1145.0 710.9,1143.7 C713.4,1142.4 715.8,1141.1 718.2,1139.8 C720.7,1138.5 723.1,1137.2 725.5,1135.9 C727.9,1134.5 730.3,1133.2 732.7,1131.9 C735.1,1130.6 737.6,1129.4 740.0,1128.1 C742.4,1126.9 744.9,1125.6 747.4,1124.5 C749.8,1123.3 752.3,1122.1 754.9,1121.0 C757.4,1120.0 759.9,1118.9 762.5,1118.0 C765.1,1117.0 767.8,1116.2 770.5,1115.4 C773.2,1114.6 776.0,1113.9 778.9,1113.4 C781.7,1112.9 784.6,1112.5 787.7,1112.3 C790.8,1112.2 794.1,1112.2 797.3,1112.5 C800.5,1112.7 803.7,1113.3 806.7,1114.1 C809.7,1114.9 812.4,1115.9 815.1,1117.0 C817.8,1118.1 820.3,1119.5 822.8,1120.8 C825.3,1122.1 827.7,1123.6 830.1,1125.0 C832.4,1126.4 834.7,1127.9 837.1,1129.4 C839.4,1130.9 841.7,1132.3 844.0,1133.8 C846.3,1135.2 848.6,1136.7 850.9,1138.1 C853.2,1139.5 855.6,1141.0 857.9,1142.3 C860.2,1143.7 862.6,1145.1 865.0,1146.5 C867.3,1147.9 869.7,1149.2 872.1,1150.5 C874.5,1151.8 876.9,1153.1 879.3,1154.4 C881.7,1155.7 884.2,1156.9 886.6,1158.1 C889.1,1159.3 891.6,1160.5 894.1,1161.6 C896.6,1162.7 899.1,1163.8 901.7,1164.9 C904.2,1166.0 906.8,1167.0 909.4,1168.0 C912.0,1168.9 914.7,1169.9 917.3,1170.8 C920.0,1171.7 922.7,1172.6 925.4,1173.4 C928.1,1174.3 930.8,1175.1 933.6,1175.8 C936.4,1176.6 939.2,1177.3 942.0,1178.0 C944.9,1178.6 947.7,1179.2 950.6,1179.8 C953.5,1180.4 956.4,1181.0 959.4,1181.5 C962.3,1182.0 965.3,1182.4 968.3,1182.8 C971.3,1183.3 974.3,1183.6 977.4,1184.0 C980.5,1184.3 983.6,1184.6 986.7,1184.8 C989.9,1185.0 993.0,1185.2 996.2,1185.4 C999.4,1185.5 1002.7,1185.6 1005.9,1185.7 C1009.2,1185.8 1012.5,1185.8 1015.8,1185.9 C1019.0,1186.1 1022.3,1186.2 1025.5,1186.5 C1028.7,1186.8 1031.9,1187.1 1035.0,1187.7 C1038.0,1188.2 1041.0,1188.8 1043.9,1189.7 C1046.8,1190.5 1049.6,1191.4 1052.2,1192.5 C1054.9,1193.7 1057.5,1194.9 1060.0,1196.3 C1062.5,1197.7 1064.9,1199.3 1067.2,1200.9 C1069.5,1202.5 1071.7,1204.4 1073.8,1206.2 C1076.0,1208.0 1078.0,1210.0 1080.0,1212.0 C1082.1,1214.0 1084.0,1216.0 1086.0,1218.1 C1087.9,1220.2 1089.8,1222.3 1091.6,1224.5 C1093.5,1226.7 1095.3,1228.9 1097.2,1231.1 C1099.0,1233.3 1100.8,1235.5 1102.6,1237.7 C1104.3,1240.0 1106.1,1242.2 1107.9,1244.5 C1109.7,1246.7 1111.4,1249.0 1113.2,1251.3 C1114.9,1253.5 1116.7,1255.8 1118.4,1258.1 C1120.2,1260.3 1121.9,1262.6 1123.7,1264.8 C1125.4,1267.0 1127.2,1269.2 1129.0,1271.4 C1130.7,1273.6 1132.5,1275.8 1134.3,1277.9 C1136.2,1280.0 1138.0,1282.0 1139.8,1284.0 C1141.7,1286.1 1143.6,1288.0 1145.5,1289.9 C1147.5,1291.8 1149.5,1293.5 1151.5,1295.3 C1153.6,1297.0 1155.7,1298.6 1157.8,1300.2 C1160.0,1301.8 1162.2,1303.3 1164.4,1304.7 C1166.7,1306.1 1169.0,1307.5 1171.3,1308.8 C1173.7,1310.0 1176.1,1311.3 1178.6,1312.4 C1181.1,1313.5 1183.6,1314.6 1186.2,1315.5 C1188.8,1316.5 1191.4,1317.4 1194.1,1318.2 C1196.8,1319.0 1199.5,1319.8 1202.3,1320.4 C1205.1,1321.1 1208.0,1321.7 1210.9,1322.2 C1213.8,1322.7 1216.8,1323.1 1219.8,1323.5 C1222.8,1323.9 1225.9,1324.2 1229.0,1324.5 C1232.1,1324.8 1235.3,1325.0 1238.5,1325.2 C1241.6,1325.3 1244.9,1325.5 1248.1,1325.6 C1251.3,1325.7 1254.6,1325.8 1257.8,1326.0 C1261.1,1326.1 1264.3,1326.2 1267.6,1326.3 C1270.8,1326.4 1274.1,1326.5 1277.4,1326.6 C1280.6,1326.7 1283.9,1326.7 1287.2,1326.8 C1290.4,1326.9 1293.7,1326.9 1297.0,1327.0 C1300.3,1327.1 1303.6,1327.1 1306.9,1327.2 C1310.2,1327.2 1313.5,1327.3 1316.8,1327.3 C1320.1,1327.4 1323.4,1327.4 1326.7,1327.4 C1330.0,1327.5 1333.3,1327.5 1336.6,1327.5 C1339.9,1327.5 1343.3,1327.5 1346.6,1327.5 C1349.9,1327.6 1353.2,1327.6 1356.6,1327.6 C1359.9,1327.6 1363.2,1327.6 1366.5,1327.6 C1369.9,1327.6 1373.2,1327.6 1376.5,1327.6 C1379.9,1327.6 1383.2,1327.6 1386.5,1327.5 C1389.9,1327.5 1393.2,1327.5 1396.5,1327.5 C1399.8,1327.5 1403.1,1327.5 1406.5,1327.5 C1409.8,1327.4 1413.1,1327.4 1416.4,1327.4 C1419.8,1327.4 1423.1,1327.4 1426.4,1327.3 C1429.7,1327.3 1433.0,1327.3 1436.3,1327.3 C1439.7,1327.2 1443.0,1327.2 1446.3,1327.2 C1449.6,1327.2 1452.9,1327.1 1456.2,1327.1 C1459.6,1327.1 1462.9,1327.1 1466.2,1327.0 C1469.5,1327.0 1472.8,1327.0 1476.1,1327.0 C1479.5,1327.0 1482.8,1326.9 1486.1,1326.9 C1489.4,1326.9 1492.7,1326.9 1496.1,1326.9 C1499.4,1326.9 1502.7,1326.9 1506.0,1326.9 C1509.4,1326.9 1512.7,1326.8 1516.0,1326.8 C1519.4,1326.8 1522.7,1326.9 1526.0,1326.9 C1529.4,1326.9 1532.7,1326.9 1536.0,1326.9 C1539.3,1326.9 1542.7,1326.9 1546.0,1326.9 C1549.3,1327.0 1552.6,1327.0 1555.9,1327.0 C1559.3,1327.1 1562.6,1327.1 1565.9,1327.1 C1569.2,1327.2 1572.5,1327.2 1575.8,1327.3 C1579.1,1327.3 1583.5,1327.4 1585.7,1327.4 C1587.9,1327.5 1588.4,1327.5 1589.0,1327.5" stroke="#9410ff" stroke-width="4.2" stroke-linecap="round"/>
<path d="M300.0,560.0 C300.5,557.5 302.1,550.0 303.0,545.0 C303.9,540.0 304.8,535.5 305.5,530.0 C306.2,524.5 306.9,517.2 307.4,512.0 C307.9,506.8 308.1,503.4 308.5,499.0 C308.9,494.6 309.5,489.8 310.0,485.3 C310.5,480.8 311.0,476.6 311.7,472.0 C312.4,467.4 313.5,462.5 314.2,458.0 C314.9,453.5 315.1,449.3 315.8,444.9 C316.5,440.5 317.5,436.0 318.3,431.6 C319.1,427.2 319.9,422.8 320.8,418.4 C321.8,414.0 322.9,409.6 324.0,405.2 C325.1,400.8 326.0,396.4 327.4,392.0 C328.8,387.6 330.5,383.1 332.3,378.8 C334.1,374.5 335.4,369.6 338.1,366.4 C340.9,363.2 345.1,360.1 348.8,359.8 C352.5,359.5 357.2,362.2 360.4,364.8 C363.6,367.4 365.3,371.6 367.8,375.5 C370.3,379.4 373.1,383.9 375.3,387.9 C377.5,391.9 379.2,395.3 381.0,399.4 C382.8,403.5 384.3,408.4 386.0,412.7 C387.7,417.0 389.2,420.9 391.0,425.0 C392.8,429.1 394.9,433.3 396.7,437.4 C398.5,441.5 400.0,445.5 401.7,449.8 C403.4,454.1 405.0,458.7 406.6,463.0 C408.2,467.3 410.0,471.3 411.6,475.4 C413.2,479.5 414.9,483.7 416.5,487.8 C418.1,491.9 419.7,495.8 421.4,500.1 C423.1,504.4 424.7,509.3 426.7,513.5 C428.7,517.7 431.4,521.5 433.4,525.5 C435.4,529.5 436.8,533.3 438.8,537.5 C440.8,541.7 441.8,542.6 445.4,550.8 C448.9,559.0 456.8,578.6 460.1,586.8 C463.4,595.0 463.6,595.8 465.4,600.2 C467.2,604.7 469.2,609.3 470.8,613.5 C472.4,617.7 473.2,621.3 474.8,625.5 C476.4,629.7 478.6,634.7 480.1,638.9 C481.7,643.1 482.8,646.7 484.1,650.9 C485.4,655.1 486.5,660.0 488.1,664.2 C489.7,668.4 491.5,672.2 493.5,676.2 C495.5,680.2 497.4,684.6 500.1,688.2 C502.8,691.8 505.7,696.7 509.5,697.6 C513.3,698.5 519.2,695.8 522.8,693.6 C526.3,691.4 528.3,688.0 530.8,684.2 C533.2,680.4 535.0,675.1 537.5,670.9 C540.0,666.7 543.0,662.7 545.5,658.9 C548.0,655.1 549.8,652.0 552.2,648.2 C554.7,644.4 557.3,639.8 560.2,636.2 C563.1,632.7 566.0,628.9 569.5,626.9 C573.0,624.9 577.5,623.5 581.5,624.2 C585.5,624.9 589.7,628.2 593.5,630.9 C597.3,633.6 600.9,636.9 604.2,640.2 C607.5,643.5 610.6,647.4 613.5,650.9 C616.4,654.4 618.4,658.6 621.5,661.5 C624.6,664.4 628.2,666.6 632.2,668.2 C636.2,669.8 641.3,671.8 645.5,670.9 C649.7,670.0 654.0,665.8 657.6,662.9 C661.2,660.0 663.8,656.8 666.9,653.5 C670.0,650.2 673.1,646.4 676.2,642.9 C679.3,639.4 682.3,635.3 685.6,632.2 C688.9,629.1 692.4,626.7 696.2,624.2 C700.0,621.8 704.3,617.7 708.3,617.5 C712.3,617.3 716.5,620.4 720.3,622.9 C724.1,625.4 727.9,628.7 731.0,632.2 C734.1,635.8 736.3,640.2 738.7,644.2 C741.1,648.2 743.3,652.2 745.3,656.2 C747.3,660.2 748.7,664.2 750.7,668.2 C752.7,672.2 755.6,676.0 757.4,680.2 C759.2,684.4 760.1,689.4 761.4,693.6 C762.7,697.8 764.1,701.6 765.4,705.6 C766.7,709.6 768.1,713.2 769.4,717.6 C770.7,722.0 771.6,725.4 773.4,732.0 C775.2,738.6 778.0,748.6 780.0,757.5 C782.0,766.4 783.4,776.6 785.4,785.5 C787.4,794.4 790.0,802.1 792.0,810.8 C794.0,819.5 795.6,828.6 797.4,837.5 C799.2,846.4 800.9,855.3 802.7,864.2 C804.5,873.1 806.0,882.1 808.0,891.0 C810.0,899.9 812.3,908.9 814.8,917.6 C817.3,926.3 819.5,934.5 822.8,943.0 C826.1,951.5 830.8,963.6 834.8,968.3 C838.8,973.0 843.5,972.5 846.8,971.0 C850.1,969.5 851.5,965.0 854.8,959.0 C858.1,953.0 862.6,945.5 866.8,935.0 C871.0,924.5 876.2,906.9 880.0,896.2 C883.8,885.5 885.9,881.7 889.5,871.0 C893.1,860.3 898.0,842.9 901.5,832.2 C905.0,821.5 907.5,815.2 910.8,806.8 C914.1,798.3 917.7,789.7 921.5,781.5 C925.3,773.3 929.0,765.5 933.5,757.5 C938.0,749.5 944.7,739.9 948.2,733.5 C951.8,727.1 952.4,722.7 954.8,718.9 C957.2,715.1 960.3,714.0 962.8,710.9 C965.2,707.8 967.3,704.0 969.5,700.2 C971.7,696.4 974.0,692.4 976.2,688.2 C978.4,684.0 980.4,678.9 982.8,674.9 C985.2,670.9 988.3,668.0 990.8,664.2 C993.2,660.4 995.3,656.2 997.5,652.2 C999.7,648.2 1001.8,644.0 1004.2,640.2 C1006.7,636.4 1009.5,633.0 1012.2,629.5 C1014.9,626.0 1017.5,622.4 1020.2,618.9 C1022.9,615.4 1025.3,611.8 1028.2,608.2 C1031.1,604.6 1034.2,600.7 1037.5,597.5 C1040.8,594.3 1044.2,591.2 1048.0,589.0 C1051.8,586.8 1055.5,585.2 1060.0,584.0 C1064.5,582.8 1070.2,581.9 1074.9,581.5 C1079.6,581.1 1083.8,581.3 1088.2,581.5 C1092.7,581.7 1097.1,582.3 1101.6,582.8 C1106.0,583.2 1110.7,583.5 1114.9,584.2 C1119.1,584.9 1121.9,585.8 1126.9,586.8 C1131.9,587.8 1132.8,589.5 1145.0,590.5 C1157.2,591.5 1182.5,592.1 1200.0,592.5 C1217.5,592.9 1233.3,592.8 1250.0,592.8 C1266.7,592.8 1283.3,592.5 1300.0,592.5 C1316.7,592.5 1333.3,592.7 1350.0,592.5 C1366.7,592.3 1385.0,592.1 1400.0,591.5 C1415.0,590.9 1423.3,589.6 1440.0,589.0 C1456.7,588.4 1481.7,588.1 1500.0,588.0 C1518.3,587.9 1535.2,588.0 1550.0,588.5 C1564.8,589.0 1582.5,590.6 1589.0,591.0" stroke="#000" stroke-width="4.4" stroke-dasharray="5 8.6"/>
<path d="M1091.3,590.7 C1092.6,590.8 1092.5,591.4 1099.0,591.4 C1105.4,591.3 1119.8,590.4 1130.0,590.5 C1140.2,590.6 1148.3,591.6 1160.0,591.7 C1171.7,591.8 1185.0,591.3 1200.0,591.1 C1215.0,590.8 1233.3,590.3 1250.0,590.2 C1266.7,590.2 1283.3,590.4 1300.0,590.6 C1316.7,590.8 1333.3,591.4 1350.0,591.6 C1366.7,591.8 1383.3,591.8 1400.0,591.7 C1416.7,591.5 1433.3,591.0 1450.0,590.7 C1466.7,590.5 1483.3,590.2 1500.0,590.2 C1516.7,590.2 1535.2,590.7 1550.0,590.9 C1564.8,591.2 1582.5,591.5 1589.0,591.7" stroke="#008a00" stroke-width="3.6"/>
<path d="M1091.4,591.1 C1092.7,591.1 1096.7,591.1 1099.4,591.0 C1102.0,591.0 1104.7,591.0 1107.3,591.0 C1110.0,591.0 1112.7,591.0 1115.3,591.0 C1118.0,591.0 1120.6,591.1 1123.3,591.1 C1126.0,591.1 1128.6,591.1 1131.2,591.2 C1133.9,591.2 1136.5,591.3 1139.2,591.3 C1141.8,591.3 1144.4,591.4 1147.1,591.4 C1149.7,591.5 1152.3,591.5 1155.0,591.5 C1157.6,591.6 1160.3,591.6 1162.9,591.7 C1165.5,591.7 1168.2,591.7 1170.8,591.8 C1173.5,591.8 1176.1,591.8 1178.8,591.8 C1181.4,591.8 1184.1,591.8 1186.8,591.8 C1189.4,591.8 1192.1,591.9 1194.7,591.9 C1197.4,591.9 1200.1,591.9 1202.7,591.9 C1205.4,591.9 1208.1,591.9 1210.7,591.9 C1213.4,591.8 1216.0,591.8 1218.7,591.8 C1221.4,591.8 1224.0,591.8 1226.7,591.8 C1229.3,591.8 1232.0,591.8 1234.7,591.8 C1237.3,591.7 1240.0,591.7 1242.6,591.7 C1245.3,591.7 1247.9,591.7 1250.6,591.6 C1253.2,591.6 1255.9,591.6 1258.5,591.6 C1261.2,591.6 1263.8,591.5 1266.5,591.5 C1269.2,591.5 1271.8,591.5 1274.5,591.5 C1277.1,591.4 1279.8,591.4 1282.4,591.4 C1285.1,591.4 1287.7,591.4 1290.4,591.4 C1293.0,591.3 1295.7,591.3 1298.3,591.3 C1301.0,591.3 1303.7,591.3 1306.3,591.3 C1309.0,591.3 1311.6,591.3 1314.3,591.3 C1317.0,591.3 1319.6,591.3 1322.3,591.3 C1325.0,591.3 1327.6,591.3 1330.3,591.3 C1333.0,591.3 1335.6,591.3 1338.3,591.3 C1341.0,591.3 1343.6,591.3 1346.3,591.3 C1349.0,591.3 1351.6,591.3 1354.3,591.3 C1356.9,591.3 1359.6,591.3 1362.3,591.3 C1364.9,591.3 1367.6,591.3 1370.2,591.4 C1372.9,591.4 1375.6,591.4 1378.2,591.4 C1380.9,591.4 1383.5,591.4 1386.2,591.4 C1388.8,591.4 1391.5,591.4 1394.2,591.5 C1396.8,591.5 1399.5,591.5 1402.1,591.5 C1404.8,591.5 1407.5,591.5 1410.1,591.5 C1412.8,591.6 1415.4,591.6 1418.1,591.6 C1420.7,591.6 1423.4,591.6 1426.1,591.6 C1428.7,591.6 1431.4,591.6 1434.0,591.6 C1436.7,591.7 1439.4,591.7 1442.0,591.7 C1444.7,591.7 1447.3,591.7 1450.0,591.7 C1452.7,591.7 1455.3,591.7 1458.0,591.7 C1460.6,591.7 1463.3,591.7 1466.0,591.8 C1468.6,591.8 1471.3,591.8 1474.0,591.8 C1476.6,591.8 1479.3,591.8 1481.9,591.8 C1484.6,591.8 1487.3,591.8 1489.9,591.8 C1492.6,591.8 1495.3,591.8 1497.9,591.8 C1500.6,591.8 1503.3,591.7 1505.9,591.7 C1508.6,591.7 1511.2,591.7 1513.9,591.7 C1516.6,591.7 1519.2,591.7 1521.9,591.7 C1524.5,591.6 1527.2,591.6 1529.8,591.6 C1532.5,591.6 1535.2,591.6 1537.8,591.5 C1540.5,591.5 1543.1,591.5 1545.8,591.5 C1548.4,591.4 1551.1,591.4 1553.7,591.4 C1556.3,591.3 1559.0,591.3 1561.6,591.3 C1564.3,591.2 1566.9,591.2 1569.5,591.1 C1572.2,591.1 1574.8,591.1 1577.5,591.0 C1580.1,591.0 1583.4,590.9 1585.3,590.9 C1587.3,590.8 1588.4,590.9 1589.0,590.9" stroke="#0514ff" stroke-width="3.6"/>
<path d="M1087.2,593.4 C1088.4,593.5 1092.1,594.0 1094.6,594.2 C1097.1,594.4 1099.6,594.6 1102.1,594.8 C1104.6,595.0 1107.2,595.2 1109.7,595.3 C1112.3,595.5 1114.8,595.6 1117.4,595.7 C1120.0,595.8 1122.6,595.9 1125.2,596.0 C1127.8,596.1 1130.4,596.1 1133.0,596.1 C1135.7,596.2 1138.3,596.2 1141.0,596.2 C1143.6,596.2 1146.3,596.2 1148.9,596.2 C1151.6,596.2 1154.2,596.2 1156.9,596.1 C1159.6,596.1 1162.2,596.1 1164.8,596.0 C1167.5,596.0 1170.1,595.9 1172.7,595.9 C1175.4,595.8 1178.0,595.8 1180.6,595.7 C1183.2,595.7 1185.9,595.6 1188.5,595.5 C1191.1,595.5 1193.8,595.4 1196.4,595.4 C1199.0,595.3 1201.6,595.3 1204.3,595.2 C1206.9,595.2 1209.5,595.1 1212.2,595.1 C1214.8,595.1 1217.5,595.0 1220.1,595.0 C1222.7,595.0 1225.4,595.0 1228.0,595.0 C1230.7,594.9 1233.4,594.9 1236.0,594.9 C1238.7,594.9 1241.3,594.9 1244.0,594.9 C1246.7,594.9 1249.3,594.9 1252.0,594.9 C1254.7,594.9 1257.3,594.9 1260.0,594.9 C1262.6,594.9 1265.3,594.9 1268.0,595.0 C1270.6,595.0 1273.3,595.0 1275.9,595.0 C1278.6,595.0 1281.2,595.0 1283.9,595.0 C1286.5,595.1 1289.2,595.1 1291.8,595.1 C1294.5,595.1 1297.1,595.2 1299.8,595.2 C1302.5,595.2 1305.1,595.2 1307.8,595.3 C1310.4,595.3 1313.0,595.3 1315.7,595.4 C1318.3,595.4 1321.0,595.4 1323.6,595.4 C1326.3,595.5 1328.9,595.5 1331.6,595.5 C1334.2,595.5 1336.9,595.6 1339.5,595.6 C1342.2,595.6 1344.8,595.7 1347.5,595.7 C1350.1,595.7 1352.8,595.7 1355.4,595.8 C1358.1,595.8 1360.7,595.8 1363.4,595.8 C1366.0,595.8 1368.7,595.8 1371.3,595.9 C1374.0,595.9 1376.6,595.9 1379.3,595.9 C1382.0,595.9 1384.6,595.9 1387.3,595.9 C1389.9,595.9 1392.6,595.9 1395.3,595.9 C1397.9,595.9 1400.6,595.9 1403.3,595.9 C1405.9,595.9 1408.6,595.9 1411.2,595.9 C1413.9,595.9 1416.6,595.8 1419.2,595.8 C1421.9,595.8 1424.5,595.8 1427.2,595.8 C1429.8,595.7 1432.5,595.7 1435.1,595.7 C1437.8,595.7 1440.4,595.6 1443.1,595.6 C1445.7,595.6 1448.4,595.5 1451.0,595.5 C1453.7,595.5 1456.3,595.5 1459.0,595.4 C1461.6,595.4 1464.3,595.4 1466.9,595.4 C1469.5,595.3 1472.2,595.3 1474.8,595.3 C1477.5,595.2 1480.1,595.2 1482.8,595.2 C1485.4,595.2 1488.1,595.2 1490.7,595.1 C1493.4,595.1 1496.1,595.1 1498.7,595.1 C1501.4,595.1 1504.0,595.1 1506.7,595.1 C1509.3,595.1 1512.0,595.1 1514.7,595.1 C1517.3,595.1 1520.0,595.1 1522.7,595.1 C1525.3,595.1 1528.0,595.1 1530.7,595.1 C1533.3,595.1 1536.0,595.2 1538.6,595.2 C1541.3,595.2 1543.9,595.2 1546.5,595.3 C1549.2,595.3 1551.8,595.4 1554.5,595.4 C1557.1,595.5 1559.7,595.5 1562.4,595.6 C1565.0,595.7 1567.6,595.7 1570.2,595.8 C1572.8,595.9 1575.5,596.0 1578.1,596.1 C1580.7,596.2 1584.0,596.4 1585.9,596.4 C1587.7,596.4 1588.5,596.2 1589.0,596.1" stroke="#ff9000" stroke-width="3.6"/>
<path d="M1092.2,594.9 C1093.5,595.0 1097.4,595.2 1100.0,595.3 C1102.5,595.4 1105.1,595.4 1107.8,595.5 C1110.4,595.6 1113.0,595.6 1115.6,595.7 C1118.2,595.7 1120.9,595.8 1123.5,595.8 C1126.2,595.8 1128.8,595.8 1131.5,595.8 C1134.1,595.8 1136.8,595.8 1139.5,595.8 C1142.1,595.8 1144.8,595.7 1147.4,595.7 C1150.1,595.7 1152.7,595.7 1155.4,595.6 C1158.0,595.6 1160.7,595.6 1163.3,595.5 C1166.0,595.5 1168.6,595.5 1171.2,595.4 C1173.9,595.4 1176.5,595.3 1179.2,595.3 C1181.8,595.3 1184.5,595.3 1187.1,595.2 C1189.8,595.2 1192.4,595.2 1195.1,595.2 C1197.7,595.2 1200.4,595.2 1203.1,595.2 C1205.7,595.2 1208.4,595.3 1211.0,595.3 C1213.7,595.3 1216.3,595.3 1219.0,595.4 C1221.6,595.4 1224.3,595.5 1226.9,595.5 C1229.5,595.6 1232.2,595.6 1234.8,595.7 C1237.4,595.7 1240.0,595.8 1242.7,595.9 C1245.3,595.9 1247.9,596.0 1250.5,596.0 C1253.2,596.1 1255.8,596.2 1258.4,596.2 C1261.0,596.3 1263.7,596.4 1266.3,596.4 C1268.9,596.5 1271.5,596.5 1274.2,596.6 C1276.8,596.6 1279.4,596.7 1282.1,596.7 C1284.7,596.7 1287.3,596.8 1290.0,596.8 C1292.6,596.8 1295.3,596.8 1297.9,596.9 C1300.6,596.9 1303.2,596.9 1305.9,596.9 C1308.6,596.9 1311.2,596.8 1313.9,596.8 C1316.5,596.8 1319.2,596.8 1321.8,596.7 C1324.5,596.7 1327.1,596.7 1329.8,596.6 C1332.4,596.6 1335.0,596.5 1337.7,596.5 C1340.3,596.4 1342.9,596.4 1345.6,596.3 C1348.2,596.3 1350.8,596.2 1353.4,596.1 C1356.1,596.1 1358.7,596.0 1361.3,596.0 C1363.9,595.9 1366.6,595.8 1369.2,595.8 C1371.8,595.7 1374.4,595.7 1377.1,595.6 C1379.7,595.6 1382.3,595.5 1385.0,595.5 C1387.6,595.4 1390.2,595.4 1392.9,595.4 C1395.5,595.3 1398.2,595.3 1400.8,595.3 C1403.5,595.3 1406.1,595.3 1408.8,595.2 C1411.4,595.2 1414.1,595.2 1416.8,595.2 C1419.4,595.2 1422.1,595.3 1424.8,595.3 C1427.4,595.3 1430.1,595.3 1432.7,595.3 C1435.4,595.4 1438.0,595.4 1440.7,595.4 C1443.3,595.4 1446.0,595.5 1448.6,595.5 C1451.3,595.5 1453.9,595.6 1456.5,595.6 C1459.2,595.7 1461.8,595.7 1464.5,595.8 C1467.1,595.8 1469.7,595.8 1472.3,595.9 C1475.0,595.9 1477.6,596.0 1480.3,596.0 C1482.9,596.1 1485.5,596.1 1488.2,596.2 C1490.8,596.2 1493.4,596.2 1496.1,596.3 C1498.7,596.3 1501.3,596.4 1504.0,596.4 C1506.6,596.5 1509.2,596.5 1511.9,596.5 C1514.5,596.6 1517.2,596.6 1519.8,596.6 C1522.5,596.7 1525.1,596.7 1527.8,596.7 C1530.4,596.7 1533.1,596.7 1535.7,596.8 C1538.4,596.8 1541.0,596.8 1543.7,596.8 C1546.4,596.8 1549.0,596.8 1551.7,596.8 C1554.3,596.7 1557.0,596.7 1559.7,596.7 C1562.3,596.7 1565.0,596.7 1567.6,596.6 C1570.3,596.6 1572.9,596.5 1575.5,596.5 C1578.2,596.4 1581.2,596.4 1583.4,596.3 C1585.7,596.2 1588.1,596.2 1589.0,596.1" stroke="#ff1aff" stroke-width="3.6"/>
<path d="M1066.9,589.5 C1071.4,590.0 1083.9,591.8 1093.6,592.8 C1103.3,593.8 1113.9,594.8 1125.0,595.5 C1136.1,596.2 1147.5,596.8 1160.0,597.0 C1172.5,597.3 1185.0,597.3 1200.0,597.1 C1215.0,597.0 1233.3,596.4 1250.0,596.1 C1266.7,595.8 1283.3,595.4 1300.0,595.4 C1316.7,595.4 1333.3,595.8 1350.0,596.1 C1366.7,596.4 1383.3,597.0 1400.0,597.1 C1416.7,597.2 1433.3,597.1 1450.0,596.8 C1466.7,596.6 1483.3,595.9 1500.0,595.7 C1516.7,595.5 1535.2,595.4 1550.0,595.5 C1564.8,595.6 1582.5,596.1 1589.0,596.3" stroke="#ff0a00" stroke-width="4.2"/>
<path d="M1087.8,591.4 C1089.1,591.5 1092.9,591.7 1095.5,591.8 C1098.1,591.9 1100.7,591.9 1103.3,592.0 C1105.9,592.0 1108.6,592.1 1111.2,592.1 C1113.8,592.1 1116.5,592.1 1119.2,592.1 C1121.8,592.1 1124.5,592.1 1127.1,592.1 C1129.8,592.1 1132.5,592.1 1135.1,592.1 C1137.8,592.1 1140.5,592.1 1143.1,592.1 C1145.8,592.1 1148.5,592.1 1151.1,592.1 C1153.8,592.1 1156.5,592.1 1159.1,592.1 C1161.8,592.1 1164.5,592.1 1167.1,592.1 C1169.8,592.1 1172.5,592.1 1175.1,592.1 C1177.8,592.1 1180.5,592.1 1183.1,592.1 C1185.8,592.1 1188.4,592.1 1191.1,592.1 C1193.8,592.2 1196.4,592.2 1199.1,592.2 C1201.8,592.2 1204.4,592.2 1207.1,592.2 C1209.8,592.2 1212.4,592.2 1215.1,592.2 C1217.8,592.2 1220.4,592.2 1223.1,592.2 C1225.7,592.2 1228.4,592.2 1231.1,592.2 C1233.7,592.2 1236.4,592.2 1239.1,592.2 C1241.7,592.2 1244.4,592.2 1247.0,592.2 C1249.7,592.2 1252.4,592.2 1255.0,592.2 C1257.7,592.3 1260.4,592.3 1263.0,592.3 C1265.7,592.3 1268.4,592.3 1271.0,592.3 C1273.7,592.3 1276.4,592.3 1279.0,592.3 C1281.7,592.3 1284.3,592.3 1287.0,592.3 C1289.7,592.3 1292.3,592.3 1295.0,592.3 C1297.7,592.3 1300.3,592.3 1303.0,592.3 C1305.7,592.3 1308.3,592.3 1311.0,592.3 C1313.6,592.3 1316.3,592.3 1319.0,592.3 C1321.6,592.3 1324.3,592.3 1327.0,592.4 C1329.6,592.4 1332.3,592.4 1335.0,592.4 C1337.6,592.4 1340.3,592.4 1343.0,592.4 C1345.6,592.4 1348.3,592.4 1351.0,592.4 C1353.6,592.4 1356.3,592.4 1359.0,592.4 C1361.6,592.4 1364.3,592.4 1366.9,592.4 C1369.6,592.4 1372.3,592.4 1374.9,592.4 C1377.6,592.4 1380.3,592.4 1382.9,592.4 C1385.6,592.4 1388.3,592.4 1390.9,592.4 C1393.6,592.4 1396.3,592.4 1398.9,592.4 C1401.6,592.4 1404.3,592.4 1406.9,592.4 C1409.6,592.4 1412.3,592.4 1414.9,592.4 C1417.6,592.4 1420.3,592.4 1422.9,592.4 C1425.6,592.4 1428.3,592.4 1430.9,592.4 C1433.6,592.4 1436.3,592.4 1438.9,592.4 C1441.6,592.4 1444.3,592.4 1446.9,592.4 C1449.6,592.4 1452.3,592.4 1454.9,592.4 C1457.6,592.4 1460.3,592.4 1462.9,592.4 C1465.6,592.4 1468.2,592.4 1470.9,592.4 C1473.6,592.4 1476.2,592.4 1478.9,592.4 C1481.6,592.4 1484.2,592.4 1486.9,592.4 C1489.6,592.4 1492.2,592.4 1494.9,592.4 C1497.6,592.4 1500.2,592.4 1502.9,592.4 C1505.6,592.3 1508.2,592.3 1510.9,592.3 C1513.5,592.3 1516.2,592.3 1518.9,592.3 C1521.5,592.3 1524.2,592.3 1526.9,592.3 C1529.5,592.3 1532.2,592.3 1534.8,592.3 C1537.5,592.3 1540.2,592.3 1542.8,592.3 C1545.5,592.3 1548.2,592.3 1550.8,592.3 C1553.5,592.3 1556.2,592.2 1558.8,592.2 C1561.5,592.2 1564.1,592.2 1566.8,592.2 C1569.5,592.2 1572.1,592.2 1574.8,592.2 C1577.5,592.2 1580.4,592.2 1582.8,592.2 C1585.1,592.1 1588.0,591.9 1589.0,591.9" stroke="#9410ff" stroke-width="3.8"/>
<path d="M1066.9,592.5 C1072.4,592.8 1089.5,593.8 1100.0,594.0 C1110.5,594.2 1120.0,593.8 1130.0,593.8 C1140.0,593.9 1148.3,594.1 1160.0,594.2 C1171.7,594.3 1185.0,594.5 1200.0,594.5 C1215.0,594.5 1233.3,594.3 1250.0,594.1 C1266.7,594.0 1283.3,593.6 1300.0,593.6 C1316.7,593.5 1333.3,593.6 1350.0,593.7 C1366.7,593.8 1383.3,594.2 1400.0,594.3 C1416.7,594.4 1433.3,594.5 1450.0,594.5 C1466.7,594.4 1483.3,594.1 1500.0,593.9 C1516.7,593.7 1535.2,593.5 1550.0,593.5 C1564.8,593.5 1582.5,593.7 1589.0,593.7" stroke="#000" stroke-width="4.5"/>
<path d="M297.3,534.8 C299.3,537.0 305.1,544.2 309.3,548.2 C313.5,552.2 317.8,555.2 322.7,558.8 C327.6,562.3 332.9,566.6 338.7,569.5 C344.5,572.4 351.2,574.7 357.4,576.2 C363.6,577.8 369.8,578.8 376.0,578.8 C382.2,578.8 388.9,577.1 394.7,576.2 C400.5,575.3 404.9,574.0 410.7,573.5 C416.5,573.0 423.6,573.3 429.4,573.5 C435.2,573.7 439.2,574.8 445.4,574.8 C451.6,574.8 459.7,573.9 466.8,573.5 C473.9,573.1 481.4,572.9 488.1,572.2 C494.8,571.5 500.6,569.7 506.8,569.5 C513.0,569.3 519.7,569.9 525.5,570.8 C531.3,571.7 535.3,573.0 541.5,574.8 C547.7,576.6 555.7,579.5 562.8,581.5 C569.9,583.5 577.5,585.9 584.2,586.8 C590.9,587.7 596.2,587.5 602.9,586.8 C609.6,586.1 617.5,583.9 624.2,582.8 C630.9,581.7 636.2,580.9 642.9,580.2 C649.6,579.5 657.1,578.6 664.2,578.8 C671.3,579.0 678.0,580.6 685.6,581.5 C693.2,582.4 703.9,583.8 709.6,584.2 C715.3,584.7 713.8,584.0 720.0,584.2 C726.2,584.4 737.8,584.8 746.7,585.5 C755.6,586.2 764.5,587.5 773.4,588.2 C782.3,588.9 792.0,590.4 800.0,589.5 C808.0,588.6 814.3,585.2 821.4,582.8 C828.5,580.3 836.5,577.7 842.7,574.8 C848.9,571.9 852.6,567.5 858.8,565.5 C865.0,563.5 873.0,562.6 880.1,562.8 C887.2,563.0 895.2,565.5 901.4,566.8 C907.6,568.1 910.4,569.9 917.5,570.8 C924.6,571.7 936.1,571.1 944.1,572.2 C952.1,573.3 958.4,576.4 965.5,577.5 C972.6,578.6 978.8,577.7 986.8,578.8 C994.8,579.9 1004.6,582.4 1013.5,584.2 C1022.4,586.0 1031.3,588.1 1040.2,589.5 C1049.1,590.9 1056.9,591.8 1066.9,592.5 C1076.9,593.2 1094.5,593.8 1100.0,594.0" stroke="#000" stroke-width="6.2" stroke-linecap="round"/>
<path d="M297.3,537.6 C298.0,538.6 300.0,541.8 301.3,543.9 C302.5,546.1 303.7,548.3 304.9,550.5 C306.1,552.6 307.2,554.9 308.4,557.1 C309.5,559.3 310.6,561.5 311.8,563.7 C312.9,565.8 314.0,568.0 315.2,570.1 C316.3,572.2 317.5,574.3 318.7,576.3 C319.9,578.3 321.1,580.3 322.3,582.2 C323.6,584.1 324.9,585.9 326.2,587.7 C327.5,589.5 328.9,591.2 330.3,592.8 C331.8,594.5 333.2,596.0 334.8,597.5 C336.3,598.9 337.9,600.2 339.6,601.4 C341.3,602.6 343.1,603.7 345.0,604.6 C346.9,605.4 348.8,606.2 351.0,606.6 C353.2,607.1 355.4,607.4 357.9,607.3 C360.4,607.2 363.4,606.8 365.8,606.3 C368.3,605.8 370.5,605.0 372.7,604.3 C375.0,603.5 377.1,602.6 379.1,601.7 C381.2,600.8 383.3,599.9 385.3,599.0 C387.3,598.1 389.3,597.1 391.4,596.2 C393.4,595.2 395.4,594.3 397.4,593.4 C399.4,592.5 401.4,591.5 403.4,590.6 C405.5,589.7 407.5,588.8 409.5,587.8 C411.5,586.9 413.5,586.0 415.6,585.1 C417.6,584.2 419.6,583.2 421.6,582.4 C423.7,581.5 425.7,580.6 427.7,579.7 C429.8,578.8 431.8,577.9 433.9,577.1 C436.0,576.3 438.0,575.4 440.1,574.6 C442.2,573.8 444.3,573.1 446.4,572.3 C448.5,571.5 450.7,570.8 452.8,570.1 C455.0,569.4 457.1,568.7 459.3,568.0 C461.5,567.3 463.7,566.6 465.9,566.0 C468.0,565.3 470.2,564.6 472.4,564.0 C474.7,563.3 476.9,562.7 479.1,562.0 C481.3,561.4 483.5,560.7 485.7,560.1 C487.9,559.4 490.1,558.7 492.3,558.1 C494.5,557.4 496.7,556.7 498.9,556.1 C501.1,555.5 503.3,555.0 505.6,554.6 C507.9,554.3 510.3,554.1 512.8,554.1 C515.4,554.2 518.2,554.5 520.8,554.8 C523.3,555.1 525.7,555.6 528.0,556.1 C530.4,556.6 532.7,557.2 535.0,557.9 C537.2,558.5 539.5,559.2 541.6,560.0 C543.8,560.7 546.0,561.5 548.1,562.4 C550.2,563.2 552.3,564.1 554.3,565.0 C556.4,565.9 558.4,566.9 560.4,567.8 C562.5,568.8 564.4,569.7 566.5,570.6 C568.5,571.5 570.5,572.5 572.5,573.3 C574.6,574.1 576.6,575.0 578.7,575.7 C580.8,576.4 582.9,577.1 585.1,577.6 C587.4,578.1 589.6,578.5 592.0,578.6 C594.4,578.8 597.1,578.7 599.6,578.5 C602.1,578.2 604.6,577.7 607.0,577.1 C609.4,576.6 611.6,576.0 613.9,575.4 C616.2,574.9 618.4,574.3 620.7,573.8 C623.0,573.2 625.2,572.7 627.6,572.3 C629.9,571.9 632.2,571.5 634.6,571.2 C637.0,570.9 639.5,570.6 642.0,570.5 C644.5,570.4 647.1,570.3 649.7,570.5 C652.3,570.6 655.0,570.9 657.5,571.2 C660.0,571.6 662.3,572.1 664.7,572.6 C667.1,573.0 669.4,573.6 671.7,574.1 C674.0,574.6 676.2,575.2 678.6,575.6 C680.9,576.1 683.2,576.6 685.5,577.0 C687.9,577.4 690.2,577.9 692.6,578.2 C695.0,578.6 697.4,578.9 699.9,579.2 C702.3,579.5 704.7,579.7 707.2,579.9 C709.8,580.1 712.3,580.2 714.9,580.3 C717.4,580.3 720.1,580.3 722.7,580.2 C725.3,580.2 728.0,580.0 730.5,579.8 C733.1,579.5 735.6,579.2 738.1,578.9 C740.5,578.5 742.9,578.0 745.3,577.5 C747.6,577.0 749.9,576.4 752.2,575.7 C754.5,575.1 756.7,574.4 758.9,573.6 C761.0,572.8 763.2,572.0 765.3,571.1 C767.4,570.2 769.4,569.3 771.5,568.3 C773.5,567.4 775.5,566.3 777.5,565.3 C779.4,564.2 781.3,563.1 783.2,561.9 C785.1,560.8 787.0,559.6 788.9,558.3 C790.7,557.1 792.5,555.8 794.3,554.5 C796.1,553.2 797.8,551.9 799.6,550.5 C801.3,549.1 803.0,547.7 804.7,546.3 C806.4,544.8 808.1,543.4 809.8,542.0 C811.4,540.5 813.1,539.0 814.7,537.6 C816.4,536.2 818.0,534.7 819.7,533.3 C821.4,531.9 823.0,530.5 824.7,529.1 C826.4,527.7 828.0,526.3 829.8,525.0 C831.5,523.7 833.2,522.5 835.0,521.3 C836.7,520.1 838.5,518.9 840.4,517.9 C842.2,516.8 844.1,515.8 846.1,515.0 C848.1,514.2 850.1,513.4 852.3,512.9 C854.4,512.4 856.7,512.0 859.1,511.9 C861.5,511.8 864.3,512.0 866.8,512.4 C869.3,512.8 871.7,513.6 873.9,514.4 C876.2,515.3 878.2,516.4 880.2,517.4 C882.2,518.4 884.1,519.6 886.0,520.7 C887.9,521.7 889.8,522.8 891.7,523.9 C893.6,525.0 895.6,526.1 897.5,527.1 C899.4,528.2 901.3,529.3 903.2,530.4 C905.1,531.4 907.0,532.5 909.0,533.6 C910.9,534.6 912.8,535.7 914.7,536.8 C916.6,537.8 918.6,538.9 920.5,539.9 C922.4,540.9 924.4,542.0 926.3,543.0 C928.2,544.1 930.2,545.1 932.1,546.1 C934.1,547.1 936.0,548.1 938.0,549.1 C939.9,550.2 941.9,551.2 943.8,552.2 C945.8,553.2 947.8,554.1 949.7,555.1 C951.7,556.1 953.7,557.1 955.7,558.1 C957.7,559.0 959.6,560.0 961.6,560.9 C963.6,561.9 965.6,562.8 967.6,563.7 C969.6,564.7 971.7,565.6 973.7,566.5 C975.7,567.4 977.7,568.3 979.8,569.2 C981.8,570.0 983.9,570.9 985.9,571.8 C988.0,572.6 990.1,573.4 992.1,574.2 C994.2,575.0 996.3,575.8 998.4,576.6 C1000.5,577.4 1002.7,578.1 1004.8,578.9 C1006.9,579.6 1009.1,580.3 1011.3,581.0 C1013.4,581.6 1015.6,582.3 1017.8,582.9 C1020.0,583.6 1022.3,584.2 1024.5,584.7 C1026.7,585.3 1029.0,585.8 1031.3,586.3 C1033.6,586.8 1035.9,587.2 1038.3,587.6 C1040.6,588.1 1043.0,588.4 1045.4,588.8 C1047.8,589.1 1050.2,589.4 1052.7,589.6 C1055.2,589.9 1057.6,590.1 1060.2,590.3 C1062.7,590.4 1065.2,590.6 1067.8,590.7 C1070.3,590.8 1072.9,590.9 1075.5,591.0 C1078.1,591.0 1080.8,591.0 1083.4,591.1 C1086.1,591.1 1088.7,591.1 1091.4,591.1 C1094.0,591.1 1096.7,591.1 1099.4,591.0 C1102.0,591.0 1106.0,591.0 1107.3,591.0" stroke="#0514ff" stroke-width="4.3" stroke-linecap="round"/>
<path d="M297.3,550.9 C297.7,552.3 298.7,556.4 299.5,559.0 C300.2,561.7 300.9,564.4 301.7,567.0 C302.5,569.6 303.3,572.2 304.1,574.8 C304.9,577.3 305.7,579.9 306.5,582.4 C307.4,584.9 308.2,587.4 309.1,589.8 C310.0,592.2 310.9,594.6 311.9,596.9 C312.8,599.3 313.8,601.6 314.8,603.8 C315.8,606.1 316.9,608.3 317.9,610.4 C319.0,612.5 320.1,614.6 321.3,616.6 C322.5,618.6 323.7,620.5 324.9,622.3 C326.2,624.1 327.5,625.9 328.9,627.5 C330.3,629.1 331.8,630.6 333.3,632.0 C334.9,633.4 336.5,634.6 338.3,635.7 C340.0,636.7 341.9,637.6 343.9,638.2 C346.0,638.7 348.1,639.1 350.5,639.1 C353.0,639.0 356.1,638.5 358.5,637.8 C360.9,637.2 363.0,636.2 365.1,635.2 C367.2,634.2 369.2,633.0 371.1,631.9 C373.0,630.7 374.8,629.5 376.7,628.2 C378.5,626.9 380.3,625.6 382.1,624.3 C383.8,623.0 385.6,621.7 387.3,620.4 C389.1,619.1 390.8,617.8 392.6,616.5 C394.3,615.2 396.1,613.9 397.9,612.5 C399.6,611.0 401.3,609.4 402.9,607.7 C404.5,606.1 406.0,604.2 407.5,602.5 C409.0,600.8 410.4,599.1 411.9,597.6 C413.4,596.1 414.9,594.6 416.6,593.4 C418.2,592.2 419.9,591.2 421.8,590.2 C423.7,589.3 425.7,588.6 427.8,587.8 C429.8,587.0 432.0,586.3 434.1,585.4 C436.3,584.6 438.4,583.5 440.4,582.5 C442.4,581.5 444.3,580.4 446.2,579.2 C448.2,578.1 450.0,577.0 451.9,575.9 C453.8,574.8 455.7,573.7 457.6,572.7 C459.5,571.6 461.4,570.7 463.4,569.7 C465.3,568.7 467.3,567.7 469.3,566.6 C471.2,565.5 473.2,564.3 475.1,563.0 C476.9,561.8 478.7,560.3 480.4,559.0 C482.2,557.6 483.9,556.2 485.6,554.8 C487.3,553.5 488.9,552.1 490.7,550.9 C492.4,549.7 494.2,548.6 496.1,547.7 C497.9,546.8 499.9,546.0 502.0,545.5 C504.1,545.1 506.4,544.8 508.9,544.9 C511.3,545.0 514.3,545.5 516.7,546.1 C519.1,546.7 521.3,547.5 523.5,548.4 C525.6,549.3 527.6,550.4 529.6,551.4 C531.6,552.5 533.5,553.6 535.4,554.8 C537.3,555.9 539.2,557.1 541.0,558.3 C542.9,559.5 544.7,560.7 546.6,561.9 C548.4,563.1 550.2,564.3 552.0,565.4 C553.9,566.6 555.7,567.8 557.6,568.9 C559.4,570.0 561.3,571.1 563.2,572.1 C565.1,573.1 567.0,574.0 569.0,574.9 C571.1,575.7 573.1,576.5 575.2,577.0 C577.4,577.6 579.5,578.1 581.9,578.3 C584.3,578.5 587.0,578.4 589.4,578.1 C591.9,577.8 594.4,577.1 596.7,576.4 C599.0,575.7 601.1,574.9 603.3,574.1 C605.4,573.3 607.5,572.4 609.6,571.5 C611.6,570.7 613.7,569.8 615.8,569.0 C617.8,568.2 619.9,567.4 622.0,566.7 C624.2,566.1 626.3,565.5 628.6,565.0 C630.8,564.6 633.2,564.2 635.6,564.0 C638.0,563.9 640.6,563.8 643.2,563.9 C645.7,563.9 648.5,564.2 651.0,564.5 C653.5,564.8 655.9,565.3 658.3,565.8 C660.7,566.2 663.0,566.8 665.3,567.4 C667.6,568.0 669.8,568.7 672.0,569.4 C674.3,570.0 676.5,570.8 678.6,571.5 C680.8,572.2 683.0,572.9 685.1,573.6 C687.3,574.3 689.5,575.0 691.7,575.7 C693.8,576.3 696.0,577.0 698.2,577.6 C700.5,578.2 702.7,578.7 705.0,579.2 C707.3,579.7 709.6,580.1 712.0,580.4 C714.3,580.7 716.8,580.9 719.3,580.9 C721.9,580.9 724.7,580.8 727.2,580.5 C729.8,580.2 732.2,579.7 734.6,579.1 C737.0,578.5 739.2,577.8 741.4,577.0 C743.6,576.2 745.7,575.3 747.8,574.3 C749.8,573.3 751.8,572.2 753.7,571.1 C755.7,569.9 757.6,568.7 759.4,567.5 C761.3,566.2 763.0,564.8 764.8,563.5 C766.6,562.1 768.3,560.6 770.0,559.1 C771.6,557.7 773.3,556.1 774.9,554.5 C776.5,553.0 778.1,551.4 779.6,549.7 C781.2,548.1 782.7,546.4 784.2,544.6 C785.7,542.9 787.2,541.2 788.7,539.4 C790.1,537.6 791.6,535.8 793.0,533.9 C794.4,532.1 795.8,530.2 797.1,528.3 C798.5,526.4 799.9,524.4 801.2,522.5 C802.5,520.6 803.9,518.6 805.2,516.6 C806.5,514.7 807.8,512.7 809.1,510.7 C810.4,508.8 811.6,506.8 812.9,504.9 C814.2,503.0 815.5,501.1 816.9,499.2 C818.2,497.3 819.5,495.4 820.9,493.7 C822.2,491.9 823.6,490.1 825.0,488.5 C826.5,486.8 827.9,485.2 829.4,483.7 C830.9,482.2 832.5,480.8 834.1,479.5 C835.8,478.2 837.5,477.0 839.3,476.0 C841.1,475.0 843.0,474.1 845.0,473.4 C847.0,472.8 849.1,472.2 851.5,472.1 C853.9,472.0 856.7,472.3 859.1,472.8 C861.6,473.3 863.9,474.3 866.0,475.3 C868.1,476.4 870.0,477.6 871.9,478.9 C873.8,480.2 875.5,481.7 877.3,483.2 C879.0,484.7 880.6,486.2 882.2,487.8 C883.8,489.4 885.4,491.1 886.9,492.8 C888.5,494.4 890.0,496.1 891.5,497.8 C893.0,499.5 894.4,501.2 895.9,502.9 C897.4,504.6 898.9,506.3 900.4,508.0 C901.8,509.7 903.3,511.3 904.8,512.9 C906.3,514.5 907.8,516.1 909.4,517.6 C911.0,519.1 912.5,520.6 914.1,522.0 C915.8,523.3 917.4,524.6 919.2,525.9 C920.9,527.1 922.7,528.3 924.5,529.4 C926.3,530.5 928.2,531.5 930.1,532.5 C932.0,533.6 934.0,534.5 936.0,535.5 C938.0,536.4 940.0,537.3 942.0,538.2 C944.0,539.2 946.0,540.1 948.0,541.1 C950.0,542.1 952.0,543.1 954.0,544.1 C956.0,545.1 957.9,546.1 959.9,547.2 C961.8,548.2 963.8,549.3 965.7,550.4 C967.6,551.4 969.5,552.5 971.5,553.6 C973.4,554.6 975.3,555.7 977.2,556.8 C979.1,557.9 981.0,559.0 982.9,560.0 C984.8,561.1 986.8,562.2 988.7,563.2 C990.6,564.3 992.5,565.4 994.4,566.4 C996.4,567.4 998.3,568.4 1000.3,569.4 C1002.2,570.4 1004.2,571.4 1006.2,572.3 C1008.1,573.3 1010.1,574.2 1012.1,575.1 C1014.2,576.0 1016.2,576.8 1018.3,577.6 C1020.3,578.5 1022.4,579.2 1024.5,580.0 C1026.7,580.7 1028.8,581.4 1031.0,582.1 C1033.1,582.8 1035.3,583.4 1037.5,584.0 C1039.8,584.6 1042.0,585.1 1044.3,585.7 C1046.6,586.2 1048.8,586.7 1051.2,587.1 C1053.5,587.6 1055.8,588.0 1058.2,588.4 C1060.6,588.8 1063.0,589.1 1065.4,589.4 C1067.8,589.7 1070.3,590.0 1072.7,590.3 C1075.2,590.5 1077.7,590.7 1080.2,590.9 C1082.7,591.1 1085.2,591.3 1087.8,591.4 C1090.4,591.6 1092.9,591.7 1095.5,591.8 C1098.1,591.9 1100.7,591.9 1103.3,592.0 C1105.9,592.0 1109.9,592.1 1111.2,592.1" stroke="#9410ff" stroke-width="4.3" stroke-linecap="round"/>
<path d="M297.3,539.8 C297.6,541.8 298.6,547.7 299.3,551.5 C300.0,555.2 300.6,558.9 301.3,562.5 C302.0,566.0 302.6,569.4 303.3,572.8 C304.0,576.1 304.6,579.3 305.3,582.4 C306.0,585.5 306.6,588.6 307.3,591.5 C308.0,594.4 308.6,597.2 309.3,599.9 C310.0,602.7 310.7,605.4 311.4,608.1 C312.1,610.7 312.8,613.4 313.6,616.0 C314.3,618.6 315.1,621.2 315.9,623.7 C316.7,626.3 317.5,628.8 318.4,631.2 C319.3,633.6 320.2,636.0 321.1,638.3 C322.0,640.7 323.0,642.9 324.0,645.1 C325.0,647.3 326.1,649.4 327.2,651.4 C328.3,653.4 329.5,655.4 330.7,657.2 C332.0,658.9 333.3,660.7 334.7,662.2 C336.1,663.7 337.6,665.1 339.3,666.2 C340.9,667.3 342.7,668.3 344.6,668.8 C346.6,669.4 348.9,669.7 351.2,669.5 C353.6,669.3 356.5,668.4 358.8,667.5 C361.1,666.6 363.0,665.3 364.9,664.1 C366.9,662.8 368.6,661.4 370.4,659.9 C372.1,658.4 373.7,656.8 375.4,655.2 C377.0,653.5 378.5,651.8 380.0,650.1 C381.5,648.4 383.0,646.6 384.4,644.8 C385.9,643.0 387.3,641.1 388.7,639.2 C390.1,637.4 391.5,635.5 392.8,633.5 C394.2,631.6 395.5,629.7 396.9,627.8 C398.2,625.8 399.5,623.8 400.8,621.9 C402.1,619.9 403.4,617.9 404.7,616.0 C406.0,614.0 407.3,612.1 408.6,610.2 C409.9,608.3 411.2,606.3 412.5,604.5 C413.8,602.6 415.2,600.8 416.6,599.0 C417.9,597.3 419.3,595.5 420.8,593.9 C422.2,592.3 423.7,590.7 425.2,589.2 C426.7,587.7 428.3,586.2 429.9,584.8 C431.5,583.4 433.2,582.1 434.9,580.7 C436.6,579.4 438.3,578.1 440.1,576.9 C441.8,575.6 443.6,574.3 445.4,573.0 C447.1,571.7 448.9,570.4 450.7,569.1 C452.4,567.8 454.2,566.4 455.9,565.0 C457.7,563.7 459.4,562.3 461.1,560.8 C462.8,559.4 464.4,557.9 466.1,556.4 C467.7,554.8 469.3,553.3 470.9,551.7 C472.5,550.0 474.1,548.4 475.6,546.7 C477.1,545.0 478.6,543.3 480.1,541.5 C481.6,539.8 483.0,538.1 484.5,536.4 C486.0,534.8 487.4,533.1 488.9,531.5 C490.4,529.9 492.0,528.4 493.5,527.0 C495.1,525.5 496.7,524.2 498.4,523.0 C500.1,521.9 501.9,520.9 503.8,520.2 C505.8,519.5 507.8,519.0 510.2,519.0 C512.6,518.9 515.6,519.4 518.0,520.1 C520.4,520.8 522.5,522.0 524.5,523.1 C526.5,524.3 528.4,525.6 530.2,527.0 C532.0,528.4 533.7,529.9 535.3,531.5 C537.0,533.0 538.6,534.6 540.2,536.1 C541.8,537.7 543.4,539.3 544.9,541.0 C546.5,542.6 548.0,544.2 549.5,545.8 C551.1,547.4 552.6,549.0 554.2,550.6 C555.7,552.1 557.3,553.7 558.8,555.2 C560.4,556.6 562.0,558.1 563.7,559.5 C565.3,560.9 567.0,562.2 568.7,563.4 C570.4,564.6 572.2,565.8 574.0,566.7 C575.9,567.7 577.8,568.6 579.9,569.2 C581.9,569.8 584.0,570.3 586.4,570.3 C588.8,570.3 591.9,569.8 594.3,569.2 C596.7,568.6 598.9,567.7 601.0,566.7 C603.1,565.8 605.1,564.8 607.1,563.8 C609.1,562.7 611.0,561.6 613.0,560.6 C614.9,559.6 616.8,558.6 618.8,557.6 C620.7,556.7 622.7,555.8 624.8,555.1 C626.8,554.3 628.9,553.6 631.1,553.1 C633.3,552.6 635.6,552.1 637.9,551.8 C640.3,551.6 642.8,551.4 645.3,551.5 C647.8,551.5 650.7,551.8 653.2,552.2 C655.7,552.6 658.0,553.2 660.3,553.9 C662.6,554.6 664.8,555.4 666.9,556.3 C669.1,557.1 671.1,558.1 673.2,559.1 C675.2,560.0 677.2,561.0 679.1,562.0 C681.1,563.0 683.1,564.1 685.0,565.1 C687.0,566.0 689.0,567.0 691.0,568.0 C692.9,568.9 694.9,569.8 697.0,570.7 C699.0,571.5 701.0,572.3 703.2,572.9 C705.3,573.5 707.5,574.1 709.7,574.5 C712.0,574.9 714.4,575.1 716.9,575.1 C719.4,575.1 722.3,574.7 724.8,574.3 C727.3,573.9 729.6,573.3 731.9,572.6 C734.2,572.0 736.4,571.2 738.6,570.4 C740.8,569.5 742.9,568.6 744.9,567.5 C746.9,566.5 748.9,565.3 750.7,564.0 C752.6,562.8 754.4,561.4 756.2,560.0 C757.9,558.5 759.6,557.0 761.2,555.3 C762.9,553.7 764.4,552.0 766.0,550.2 C767.5,548.4 768.9,546.6 770.3,544.7 C771.7,542.8 773.1,540.8 774.4,538.7 C775.8,536.7 777.0,534.6 778.3,532.5 C779.5,530.4 780.8,528.2 781.9,526.0 C783.1,523.8 784.3,521.6 785.4,519.3 C786.6,517.0 787.7,514.7 788.8,512.4 C789.9,510.1 790.9,507.8 792.0,505.4 C793.0,503.1 794.1,500.7 795.1,498.3 C796.1,495.9 797.1,493.5 798.1,491.0 C799.1,488.6 800.1,486.1 801.1,483.7 C802.1,481.2 803.0,478.7 804.0,476.3 C804.9,473.8 805.9,471.3 806.8,468.9 C807.8,466.4 808.7,464.0 809.6,461.5 C810.6,459.1 811.5,456.6 812.5,454.2 C813.5,451.8 814.4,449.4 815.4,447.0 C816.4,444.6 817.3,442.3 818.3,440.0 C819.3,437.7 820.3,435.4 821.4,433.2 C822.4,430.9 823.5,428.8 824.6,426.6 C825.7,424.5 826.8,422.4 828.0,420.4 C829.1,418.5 830.3,416.5 831.6,414.7 C832.9,412.9 834.2,411.1 835.6,409.6 C837.0,408.0 838.4,406.5 840.0,405.2 C841.6,404.0 843.3,402.8 845.2,402.2 C847.1,401.6 849.2,401.1 851.5,401.5 C853.8,401.9 856.6,403.3 858.7,404.5 C860.8,405.8 862.5,407.4 864.2,409.0 C865.9,410.6 867.4,412.4 869.0,414.2 C870.5,416.0 871.9,417.8 873.3,419.7 C874.7,421.6 876.1,423.6 877.5,425.5 C878.8,427.5 880.1,429.4 881.4,431.4 C882.7,433.4 884.0,435.4 885.3,437.4 C886.6,439.4 887.9,441.3 889.1,443.3 C890.4,445.3 891.7,447.3 893.0,449.2 C894.3,451.2 895.5,453.2 896.8,455.1 C898.1,457.1 899.4,459.0 900.7,460.9 C902.0,462.8 903.3,464.8 904.7,466.6 C906.0,468.5 907.3,470.4 908.7,472.2 C910.0,474.1 911.4,475.9 912.7,477.7 C914.1,479.5 915.5,481.2 916.9,483.0 C918.3,484.7 919.8,486.4 921.2,488.1 C922.7,489.7 924.2,491.3 925.7,492.9 C927.2,494.6 928.7,496.1 930.3,497.7 C931.8,499.2 933.4,500.7 935.0,502.2 C936.6,503.7 938.2,505.2 939.8,506.7 C941.4,508.1 943.1,509.6 944.7,511.0 C946.4,512.4 948.1,513.8 949.7,515.2 C951.4,516.6 953.1,518.0 954.8,519.4 C956.4,520.8 958.1,522.2 959.8,523.6 C961.5,525.0 963.2,526.4 964.9,527.8 C966.6,529.2 968.3,530.6 970.0,532.0 C971.7,533.4 973.3,534.7 975.0,536.1 C976.7,537.5 978.4,538.9 980.1,540.3 C981.8,541.6 983.5,543.0 985.2,544.4 C986.9,545.8 988.6,547.1 990.3,548.5 C992.0,549.9 993.8,551.3 995.5,552.6 C997.2,554.0 998.9,555.3 1000.6,556.7 C1002.3,558.1 1004.0,559.4 1005.8,560.8 C1007.5,562.1 1009.2,563.5 1010.9,564.8 C1012.6,566.1 1014.4,567.5 1016.1,568.8 C1017.8,570.1 1019.5,571.5 1021.3,572.8 C1023.0,574.1 1024.8,575.3 1026.5,576.6 C1028.3,577.8 1030.1,579.0 1031.9,580.2 C1033.7,581.3 1035.5,582.5 1037.4,583.5 C1039.3,584.5 1041.2,585.5 1043.2,586.4 C1045.2,587.2 1047.2,588.1 1049.3,588.8 C1051.4,589.5 1053.5,590.1 1055.7,590.7 C1057.9,591.2 1060.2,591.7 1062.5,592.1 C1064.9,592.5 1067.2,592.9 1069.7,593.2 C1072.1,593.5 1074.5,593.7 1077.0,593.9 C1079.5,594.1 1082.1,594.3 1084.6,594.5 C1087.1,594.6 1089.7,594.8 1092.2,594.9 C1094.8,595.1 1097.4,595.2 1100.0,595.3 C1102.5,595.4 1106.5,595.5 1107.8,595.5" stroke="#ff1aff" stroke-width="4.3" stroke-linecap="round"/>
<path d="M297.3,521.5 C297.6,523.4 298.6,529.0 299.3,532.7 C300.0,536.4 300.6,540.1 301.3,543.8 C302.0,547.5 302.6,551.2 303.3,554.8 C304.0,558.4 304.6,562.0 305.3,565.5 C306.0,569.1 306.6,572.6 307.3,576.1 C308.0,579.5 308.6,582.9 309.3,586.3 C310.0,589.6 310.6,592.9 311.3,596.1 C312.0,599.3 312.6,602.4 313.3,605.5 C314.0,608.6 314.6,611.5 315.3,614.4 C316.0,617.3 316.6,620.0 317.3,622.8 C318.0,625.5 318.7,628.2 319.4,630.9 C320.1,633.5 320.8,636.2 321.6,638.7 C322.4,641.3 323.2,643.8 324.0,646.2 C324.9,648.7 325.7,651.1 326.6,653.4 C327.5,655.7 328.5,658.0 329.5,660.2 C330.5,662.3 331.6,664.4 332.7,666.4 C333.8,668.4 335.0,670.3 336.3,672.0 C337.5,673.7 338.9,675.4 340.4,676.8 C341.8,678.2 343.4,679.5 345.1,680.5 C346.8,681.6 348.6,682.5 350.7,682.9 C352.7,683.3 355.3,683.4 357.6,682.9 C359.8,682.3 362.4,681.0 364.4,679.6 C366.4,678.3 368.1,676.6 369.8,675.0 C371.4,673.3 372.9,671.5 374.4,669.7 C375.9,667.8 377.3,665.9 378.7,664.0 C380.1,662.1 381.4,660.1 382.8,658.2 C384.1,656.2 385.4,654.2 386.7,652.2 C388.0,650.2 389.2,648.3 390.5,646.2 C391.8,644.2 393.1,642.2 394.4,640.2 C395.6,638.2 396.9,636.1 398.1,634.1 C399.4,632.0 400.6,630.0 401.8,627.9 C403.1,625.8 404.3,623.7 405.5,621.6 C406.7,619.6 407.9,617.5 409.1,615.4 C410.4,613.3 411.6,611.3 412.8,609.3 C414.0,607.2 415.2,605.3 416.5,603.3 C417.8,601.4 419.0,599.5 420.4,597.7 C421.7,596.0 423.0,594.3 424.4,592.7 C425.9,591.1 427.4,589.6 428.9,588.1 C430.5,586.7 432.2,585.4 433.8,583.9 C435.5,582.5 437.2,581.1 438.9,579.5 C440.5,578.0 442.1,576.4 443.7,574.7 C445.3,573.0 446.8,571.3 448.3,569.6 C449.8,567.9 451.3,566.1 452.7,564.3 C454.2,562.6 455.6,560.8 457.0,559.0 C458.5,557.2 459.9,555.5 461.3,553.7 C462.7,551.9 464.2,550.1 465.6,548.2 C467.0,546.4 468.4,544.6 469.8,542.8 C471.2,541.0 472.6,539.1 474.0,537.3 C475.3,535.5 476.7,533.6 478.1,531.8 C479.5,530.0 480.9,528.1 482.3,526.3 C483.6,524.5 485.0,522.7 486.4,520.9 C487.8,519.1 489.2,517.4 490.7,515.8 C492.1,514.1 493.6,512.5 495.1,511.0 C496.6,509.5 498.1,508.0 499.8,506.7 C501.4,505.5 503.1,504.3 504.9,503.5 C506.8,502.7 508.7,501.8 511.0,501.9 C513.3,502.0 516.5,502.9 518.8,503.9 C521.1,504.9 522.8,506.4 524.6,507.9 C526.5,509.3 528.1,511.0 529.7,512.6 C531.3,514.2 532.8,515.9 534.4,517.7 C535.9,519.4 537.3,521.2 538.8,523.0 C540.2,524.7 541.7,526.5 543.1,528.3 C544.5,530.1 545.9,531.9 547.4,533.6 C548.8,535.4 550.2,537.1 551.6,538.9 C553.1,540.6 554.5,542.3 556.0,544.0 C557.4,545.6 558.9,547.3 560.4,548.9 C561.9,550.5 563.4,552.0 565.0,553.5 C566.6,554.9 568.2,556.4 569.9,557.6 C571.5,558.9 573.2,560.1 575.0,561.1 C576.8,562.2 578.7,563.1 580.8,563.7 C582.8,564.4 584.9,565.0 587.2,565.1 C589.5,565.2 592.3,565.1 594.8,564.6 C597.2,564.2 599.6,563.2 601.8,562.3 C603.9,561.3 605.9,560.1 607.8,558.9 C609.7,557.7 611.5,556.3 613.3,555.0 C615.1,553.8 616.8,552.4 618.6,551.1 C620.4,549.8 622.1,548.5 623.9,547.3 C625.6,546.2 627.4,545.0 629.3,544.0 C631.2,543.0 633.0,542.1 635.1,541.5 C637.2,540.9 639.3,540.4 641.7,540.3 C644.0,540.2 646.8,540.3 649.3,540.8 C651.8,541.2 654.1,542.0 656.4,542.8 C658.6,543.7 660.6,544.7 662.6,545.8 C664.7,546.8 666.6,548.0 668.5,549.2 C670.4,550.3 672.2,551.6 674.0,552.8 C675.9,554.0 677.7,555.2 679.5,556.4 C681.3,557.6 683.1,558.8 685.0,559.9 C686.8,561.1 688.6,562.2 690.5,563.2 C692.4,564.2 694.3,565.2 696.3,566.0 C698.3,566.9 700.3,567.6 702.5,568.2 C704.6,568.8 706.8,569.3 709.2,569.6 C711.5,569.9 714.0,570.0 716.5,569.9 C719.0,569.7 721.8,569.3 724.2,568.7 C726.7,568.1 728.9,567.3 731.0,566.4 C733.2,565.5 735.2,564.4 737.2,563.2 C739.2,562.1 741.0,560.8 742.9,559.4 C744.7,558.1 746.4,556.6 748.1,555.0 C749.8,553.5 751.4,551.9 752.9,550.2 C754.5,548.5 756.0,546.8 757.5,545.0 C759.0,543.2 760.4,541.3 761.8,539.4 C763.2,537.5 764.6,535.5 765.9,533.5 C767.2,531.5 768.5,529.5 769.8,527.4 C771.1,525.3 772.3,523.2 773.5,521.0 C774.7,518.9 775.9,516.7 777.1,514.4 C778.3,512.2 779.4,510.0 780.5,507.7 C781.6,505.4 782.7,503.1 783.8,500.7 C784.9,498.4 785.9,496.0 787.0,493.6 C788.0,491.3 789.0,488.8 790.0,486.4 C791.1,484.0 792.0,481.5 793.0,479.0 C794.0,476.6 795.0,474.1 795.9,471.6 C796.8,469.0 797.8,466.5 798.7,463.9 C799.6,461.4 800.5,458.8 801.4,456.2 C802.3,453.7 803.2,451.1 804.0,448.5 C804.9,445.9 805.8,443.3 806.6,440.7 C807.5,438.1 808.4,435.5 809.2,433.0 C810.1,430.4 810.9,427.8 811.8,425.3 C812.7,422.7 813.5,420.2 814.4,417.6 C815.3,415.1 816.2,412.6 817.1,410.2 C818.0,407.7 818.9,405.2 819.8,402.8 C820.7,400.4 821.7,398.1 822.6,395.8 C823.6,393.4 824.6,391.1 825.6,388.9 C826.6,386.7 827.7,384.5 828.8,382.4 C829.9,380.4 831.0,378.3 832.2,376.4 C833.4,374.5 834.6,372.6 836.0,370.9 C837.3,369.2 838.6,367.6 840.1,366.2 C841.6,364.8 843.2,363.5 844.9,362.5 C846.7,361.6 848.5,360.7 850.6,360.5 C852.8,360.3 855.7,360.7 858.0,361.4 C860.2,362.2 862.4,363.6 864.3,365.0 C866.3,366.4 867.9,368.1 869.6,369.7 C871.2,371.4 872.7,373.3 874.2,375.1 C875.6,377.0 877.0,379.0 878.4,381.0 C879.7,383.0 881.0,385.1 882.3,387.2 C883.6,389.3 884.8,391.4 886.0,393.6 C887.2,395.8 888.3,398.1 889.5,400.3 C890.6,402.5 891.7,404.8 892.9,407.1 C894.0,409.4 895.0,411.7 896.1,414.0 C897.2,416.3 898.3,418.6 899.3,420.9 C900.4,423.2 901.4,425.5 902.5,427.7 C903.6,430.0 904.6,432.3 905.7,434.5 C906.8,436.7 907.9,438.9 909.0,441.1 C910.1,443.2 911.2,445.3 912.4,447.4 C913.5,449.5 914.7,451.6 915.9,453.6 C917.1,455.6 918.3,457.6 919.6,459.5 C920.8,461.5 922.1,463.4 923.4,465.3 C924.7,467.2 926.0,469.1 927.3,470.9 C928.7,472.8 930.0,474.6 931.4,476.4 C932.8,478.2 934.2,480.0 935.6,481.7 C937.0,483.5 938.4,485.2 939.9,487.0 C941.3,488.7 942.7,490.5 944.2,492.2 C945.6,493.9 947.1,495.6 948.5,497.3 C950.0,499.0 951.5,500.6 953.0,502.3 C954.5,503.9 956.0,505.6 957.5,507.2 C959.0,508.8 960.5,510.4 962.1,512.0 C963.6,513.5 965.2,515.1 966.7,516.6 C968.3,518.2 969.9,519.7 971.5,521.2 C973.1,522.7 974.7,524.2 976.3,525.7 C977.9,527.2 979.5,528.7 981.1,530.2 C982.7,531.8 984.4,533.3 985.9,534.9 C987.5,536.5 989.1,538.2 990.6,539.8 C992.2,541.5 993.7,543.2 995.2,544.8 C996.7,546.5 998.2,548.2 999.7,549.8 C1001.2,551.5 1002.7,553.1 1004.2,554.7 C1005.7,556.3 1007.2,557.9 1008.8,559.5 C1010.3,561.1 1011.9,562.6 1013.5,564.1 C1015.0,565.6 1016.6,567.1 1018.2,568.5 C1019.9,570.0 1021.5,571.3 1023.2,572.7 C1024.9,574.0 1026.6,575.2 1028.3,576.4 C1030.1,577.6 1031.9,578.7 1033.8,579.8 C1035.7,580.8 1037.6,581.8 1039.5,582.7 C1041.5,583.6 1043.5,584.4 1045.6,585.1 C1047.7,585.9 1049.8,586.5 1052.0,587.2 C1054.2,587.8 1056.4,588.3 1058.7,588.9 C1061.0,589.4 1063.3,589.8 1065.6,590.2 C1067.9,590.7 1070.3,591.1 1072.7,591.5 C1075.1,591.8 1077.5,592.2 1079.9,592.5 C1082.3,592.8 1084.8,593.1 1087.2,593.4 C1089.7,593.7 1092.1,594.0 1094.6,594.2 C1097.1,594.4 1099.6,594.6 1102.1,594.8 C1104.6,595.0 1108.5,595.2 1109.7,595.3" stroke="#ff9000" stroke-width="4.3" stroke-linecap="round"/>
<path d="M298.0,494.4 C298.3,496.8 299.3,504.2 300.0,509.0 C300.7,513.8 301.3,518.6 302.0,523.2 C302.7,527.9 303.3,532.5 304.0,537.0 C304.7,541.5 305.3,546.0 306.0,550.3 C306.7,554.7 307.3,559.0 308.0,563.1 C308.7,567.3 309.3,571.4 310.0,575.4 C310.7,579.5 311.3,583.4 312.0,587.2 C312.7,591.0 313.3,594.8 314.0,598.4 C314.7,602.1 315.3,605.6 316.0,609.1 C316.7,612.5 317.3,615.8 318.0,619.1 C318.7,622.3 319.3,625.5 320.0,628.5 C320.7,631.5 321.3,634.2 322.0,637.0 C322.7,639.7 323.3,642.2 324.0,644.8 C324.7,647.4 325.4,649.9 326.1,652.4 C326.9,654.8 327.6,657.2 328.4,659.6 C329.2,662.0 330.0,664.3 330.9,666.5 C331.8,668.7 332.7,670.8 333.6,672.9 C334.6,674.9 335.6,676.9 336.7,678.8 C337.8,680.7 338.9,682.5 340.1,684.1 C341.4,685.6 342.7,687.1 344.1,688.2 C345.6,689.3 347.2,690.1 349.1,690.5 C351.0,690.8 353.6,690.7 355.8,690.2 C357.9,689.7 360.2,688.4 362.1,687.3 C364.0,686.2 365.7,684.9 367.4,683.6 C369.1,682.4 370.7,681.0 372.3,679.6 C373.9,678.2 375.5,676.8 377.1,675.2 C378.6,673.7 380.1,672.1 381.5,670.3 C383.0,668.6 384.4,666.9 385.7,664.9 C387.1,662.9 388.4,660.5 389.7,658.3 C391.0,656.1 392.3,653.9 393.5,651.6 C394.8,649.4 396.0,647.1 397.2,644.8 C398.4,642.5 399.6,640.2 400.8,637.9 C401.9,635.7 403.1,633.6 404.2,631.4 C405.3,629.2 406.5,627.0 407.6,624.7 C408.6,622.5 409.7,620.2 410.8,617.9 C411.8,615.6 412.9,613.2 413.9,610.9 C414.9,608.6 415.9,606.3 416.9,604.0 C418.0,601.7 419.0,599.4 420.0,597.2 C421.0,595.0 422.1,592.7 423.1,590.6 C424.2,588.5 425.3,586.4 426.4,584.4 C427.6,582.4 428.8,580.5 430.0,578.6 C431.3,576.8 432.6,575.0 433.9,573.3 C435.2,571.5 436.6,569.9 438.1,568.2 C439.5,566.5 441.0,564.9 442.4,563.3 C443.9,561.6 445.4,559.9 446.9,558.2 C448.4,556.5 449.9,554.8 451.3,553.0 C452.7,551.2 454.2,549.5 455.6,547.6 C457.0,545.8 458.4,544.0 459.8,542.2 C461.2,540.4 462.6,538.5 463.9,536.6 C465.3,534.8 466.6,532.9 468.0,531.1 C469.3,529.2 470.7,527.4 472.0,525.6 C473.4,523.8 474.7,522.1 476.1,520.3 C477.4,518.5 478.7,516.8 480.1,515.0 C481.4,513.2 482.7,511.5 484.1,509.7 C485.4,508.0 486.7,506.2 488.1,504.5 C489.4,502.7 490.8,501.0 492.1,499.3 C493.5,497.6 494.8,495.9 496.2,494.3 C497.6,492.7 499.0,491.1 500.5,489.7 C501.9,488.3 503.4,486.9 505.1,485.9 C506.7,484.9 508.3,484.0 510.3,483.8 C512.3,483.5 515.0,483.7 517.2,484.5 C519.3,485.2 521.4,487.0 523.2,488.5 C525.1,490.0 526.6,491.7 528.1,493.4 C529.6,495.1 531.1,496.9 532.5,498.8 C533.9,500.6 535.2,502.4 536.6,504.3 C538.0,506.1 539.3,508.0 540.6,509.9 C542.0,511.7 543.3,513.5 544.6,515.3 C546.0,517.1 547.4,518.9 548.7,520.7 C550.1,522.5 551.5,524.3 552.8,526.1 C554.2,527.9 555.6,529.7 556.9,531.5 C558.3,533.3 559.7,535.1 561.0,536.9 C562.4,538.6 563.8,540.4 565.2,542.1 C566.6,543.7 568.1,545.4 569.6,546.8 C571.1,548.2 572.7,549.5 574.4,550.5 C576.1,551.5 577.9,552.4 580.0,552.9 C582.1,553.4 584.4,553.6 586.8,553.4 C589.2,553.2 592.0,552.4 594.3,551.6 C596.6,550.8 598.6,549.7 600.6,548.6 C602.7,547.6 604.6,546.4 606.5,545.2 C608.4,544.1 610.2,542.8 612.0,541.6 C613.9,540.4 615.7,539.2 617.5,538.0 C619.3,536.8 621.1,535.6 623.0,534.5 C624.8,533.4 626.7,532.4 628.6,531.4 C630.5,530.5 632.5,529.6 634.5,528.9 C636.6,528.3 638.7,527.6 641.0,527.4 C643.3,527.2 646.0,527.3 648.5,527.8 C650.9,528.2 653.3,529.1 655.5,530.0 C657.7,530.8 659.7,531.9 661.7,533.0 C663.7,534.1 665.5,535.3 667.4,536.5 C669.3,537.8 671.1,539.0 672.9,540.3 C674.7,541.6 676.5,542.9 678.3,544.1 C680.0,545.4 681.8,546.7 683.6,547.9 C685.4,549.1 687.2,550.3 689.0,551.5 C690.8,552.6 692.6,553.7 694.5,554.7 C696.4,555.6 698.4,556.6 700.4,557.3 C702.4,558.1 704.5,558.8 706.7,559.2 C709.0,559.6 711.5,559.7 713.9,559.5 C716.3,559.2 718.9,558.4 721.2,557.7 C723.5,557.0 725.5,556.0 727.6,555.1 C729.6,554.1 731.6,553.2 733.5,552.1 C735.5,551.1 737.4,550.0 739.3,548.8 C741.2,547.6 743.0,546.4 744.8,545.1 C746.6,543.7 748.3,542.3 750.0,540.8 C751.7,539.3 753.3,537.7 754.9,536.1 C756.5,534.4 758.0,532.7 759.5,530.9 C760.9,529.1 762.4,527.2 763.7,525.3 C765.1,523.3 766.4,521.3 767.7,519.2 C769.0,517.2 770.3,515.0 771.5,512.9 C772.7,510.7 773.8,508.5 775.0,506.2 C776.1,503.9 777.2,501.6 778.3,499.2 C779.4,496.9 780.4,494.5 781.4,492.0 C782.4,489.6 783.4,487.1 784.4,484.6 C785.3,482.1 786.3,479.6 787.2,477.0 C788.1,474.4 789.0,471.8 789.9,469.2 C790.8,466.6 791.6,464.1 792.5,461.5 C793.3,458.9 794.1,456.3 794.9,453.7 C795.7,451.1 796.5,448.4 797.3,445.7 C798.1,443.1 798.8,440.4 799.6,437.7 C800.3,435.0 801.1,432.4 801.8,429.7 C802.5,427.0 803.3,424.3 804.0,421.7 C804.7,419.0 805.5,416.3 806.2,413.7 C806.9,411.0 807.7,408.3 808.4,405.7 C809.2,403.1 809.9,400.5 810.7,397.9 C811.4,395.3 812.2,392.7 812.9,390.1 C813.7,387.6 814.5,385.1 815.3,382.5 C816.1,380.0 816.9,377.5 817.7,375.1 C818.5,372.6 819.4,370.2 820.2,367.8 C821.1,365.5 822.0,363.1 822.9,360.8 C823.8,358.5 824.7,356.3 825.7,354.1 C826.6,351.9 827.6,349.8 828.6,347.8 C829.7,345.7 830.8,343.8 831.9,341.9 C833.0,340.1 834.2,338.3 835.5,336.7 C836.7,335.1 838.0,333.6 839.5,332.4 C840.9,331.1 842.4,329.9 844.1,329.2 C845.8,328.4 847.5,327.9 849.6,327.8 C851.8,327.6 854.6,327.6 856.8,328.3 C859.1,328.9 861.2,330.2 863.0,331.5 C864.9,332.8 866.5,334.4 868.1,336.0 C869.7,337.6 871.1,339.4 872.5,341.2 C873.9,343.0 875.3,344.9 876.6,346.8 C877.9,348.8 879.1,350.8 880.4,352.8 C881.6,354.8 882.8,356.9 884.0,359.0 C885.1,361.1 886.3,363.2 887.4,365.3 C888.6,367.5 889.7,369.6 890.8,371.8 C891.9,374.0 892.9,376.2 894.0,378.4 C895.1,380.6 896.1,382.8 897.2,385.0 C898.2,387.3 899.3,389.5 900.3,391.7 C901.4,394.0 902.4,396.3 903.5,398.5 C904.5,400.8 905.6,403.0 906.6,405.2 C907.7,407.4 908.8,409.6 909.9,411.8 C911.0,413.9 912.1,416.1 913.2,418.2 C914.4,420.3 915.5,422.4 916.7,424.5 C917.9,426.6 919.0,428.7 920.2,430.8 C921.4,432.8 922.6,434.9 923.8,436.9 C925.0,439.0 926.2,441.0 927.4,443.0 C928.6,445.0 929.9,447.0 931.1,449.0 C932.3,450.9 933.6,452.9 934.9,454.8 C936.1,456.8 937.4,458.7 938.7,460.6 C940.0,462.5 941.3,464.3 942.6,466.2 C944.0,468.0 945.3,469.8 946.7,471.6 C948.0,473.4 949.4,475.2 950.8,476.9 C952.2,478.6 953.6,480.4 955.0,482.1 C956.5,483.8 957.9,485.5 959.4,487.1 C960.8,488.8 962.3,490.5 963.8,492.2 C965.2,493.9 966.7,495.6 968.1,497.3 C969.6,499.0 971.1,500.7 972.5,502.5 C974.0,504.2 975.4,506.0 976.8,507.8 C978.2,509.6 979.6,511.4 981.0,513.2 C982.4,515.0 983.8,516.8 985.2,518.6 C986.6,520.4 988.0,522.2 989.4,524.0 C990.7,525.9 992.1,527.7 993.5,529.5 C994.9,531.3 996.2,533.1 997.6,534.8 C999.0,536.6 1000.4,538.3 1001.8,540.0 C1003.2,541.7 1004.7,543.3 1006.1,545.0 C1007.5,546.6 1009.0,548.2 1010.4,549.8 C1011.9,551.4 1013.4,553.0 1014.8,554.5 C1016.3,556.0 1017.8,557.6 1019.4,559.0 C1020.9,560.5 1022.4,562.0 1024.0,563.4 C1025.6,564.8 1027.2,566.1 1028.8,567.5 C1030.4,568.8 1032.0,570.2 1033.7,571.5 C1035.4,572.8 1037.1,574.1 1038.8,575.2 C1040.6,576.4 1042.3,577.6 1044.2,578.6 C1046.0,579.7 1047.8,580.6 1049.8,581.6 C1051.7,582.6 1053.6,583.6 1055.7,584.5 C1057.7,585.3 1059.9,586.1 1062.0,586.7 C1064.2,587.4 1066.5,588.0 1068.8,588.5 C1071.2,588.9 1073.6,589.2 1076.0,589.5 C1078.5,589.8 1081.0,589.9 1083.6,590.1 C1086.1,590.3 1088.7,590.5 1091.3,590.7 C1093.9,590.9 1097.7,591.2 1099.0,591.4" stroke="#008a00" stroke-width="5" stroke-linecap="round"/>
<path d="M298.0,497.4 C298.3,499.8 299.3,507.3 300.0,512.1 C300.7,516.9 301.3,521.7 302.0,526.4 C302.7,531.1 303.3,535.7 304.0,540.3 C304.7,544.8 305.3,549.3 306.0,553.7 C306.7,558.1 307.3,562.4 308.0,566.6 C308.7,570.8 309.3,574.9 310.0,579.0 C310.7,583.0 311.3,587.0 312.0,590.9 C312.7,594.7 313.3,598.5 314.0,602.1 C314.7,605.8 315.3,609.4 316.0,612.9 C316.7,616.3 317.3,619.7 318.0,623.0 C318.7,626.3 319.3,629.4 320.0,632.5 C320.7,635.6 321.3,638.5 322.0,641.4 C322.7,644.2 323.3,646.9 324.0,649.6 C324.7,652.3 325.4,655.0 326.1,657.6 C326.9,660.2 327.6,662.8 328.4,665.3 C329.2,667.8 330.0,670.3 330.9,672.7 C331.8,675.0 332.7,677.4 333.6,679.6 C334.6,681.8 335.6,684.0 336.7,686.0 C337.8,688.0 338.9,690.0 340.1,691.7 C341.4,693.4 342.7,695.0 344.1,696.3 C345.6,697.5 347.2,698.7 349.1,699.1 C351.0,699.5 353.6,699.4 355.8,698.7 C357.9,698.0 360.2,696.4 362.1,695.0 C364.0,693.7 365.7,692.2 367.4,690.7 C369.1,689.2 370.7,687.7 372.3,686.1 C373.9,684.5 375.5,682.9 377.1,681.2 C378.6,679.4 380.1,677.6 381.5,675.7 C383.0,673.9 384.4,671.9 385.7,670.0 C387.1,668.0 388.4,666.0 389.7,664.0 C391.0,661.9 392.3,659.9 393.5,657.8 C394.8,655.7 396.0,653.6 397.2,651.4 C398.4,649.3 399.6,647.1 400.8,644.9 C401.9,642.7 403.1,640.5 404.2,638.2 C405.3,636.0 406.5,633.7 407.6,631.4 C408.6,629.0 409.7,626.7 410.8,624.3 C411.8,622.0 412.9,619.6 413.9,617.2 C414.9,614.8 415.9,612.5 416.9,610.1 C418.0,607.8 419.0,605.5 420.0,603.2 C421.0,600.9 422.1,598.7 423.1,596.5 C424.2,594.4 425.3,592.3 426.4,590.2 C427.6,588.2 428.8,586.3 430.0,584.4 C431.3,582.5 432.6,580.7 433.9,578.9 C435.2,577.1 436.6,575.4 438.1,573.7 C439.5,572.0 441.0,570.4 442.4,568.7 C443.9,567.0 445.4,565.3 446.9,563.6 C448.4,561.9 449.9,560.1 451.3,558.3 C452.7,556.5 454.2,554.7 455.6,552.9 C457.0,551.1 458.4,549.2 459.8,547.4 C461.2,545.5 462.6,543.6 463.9,541.8 C465.3,539.9 466.6,538.0 468.0,536.1 C469.3,534.2 470.7,532.3 472.0,530.4 C473.4,528.5 474.7,526.6 476.1,524.7 C477.4,522.8 478.7,520.9 480.1,519.0 C481.4,517.1 482.7,515.2 484.1,513.3 C485.4,511.4 486.7,509.5 488.1,507.6 C489.4,505.8 490.8,503.9 492.1,502.1 C493.5,500.2 494.8,498.4 496.2,496.6 C497.6,494.9 499.0,493.2 500.5,491.7 C501.9,490.1 503.4,488.6 505.1,487.5 C506.7,486.3 508.3,485.1 510.3,484.8 C512.3,484.5 515.0,484.9 517.2,485.7 C519.3,486.6 521.4,488.4 523.2,490.0 C525.1,491.5 526.6,493.3 528.1,495.1 C529.6,496.9 531.1,498.8 532.5,500.6 C533.9,502.5 535.2,504.4 536.6,506.3 C538.0,508.2 539.3,510.2 540.6,512.1 C542.0,513.9 543.3,515.8 544.6,517.7 C546.0,519.5 547.4,521.4 548.7,523.3 C550.1,525.1 551.5,527.0 552.8,528.8 C554.2,530.6 555.6,532.5 556.9,534.3 C558.3,536.2 559.7,538.1 561.0,539.9 C562.4,541.6 563.8,543.4 565.2,545.1 C566.6,546.7 568.1,548.4 569.6,549.8 C571.1,551.2 572.7,552.5 574.4,553.5 C576.1,554.5 577.9,555.4 580.0,555.9 C582.1,556.4 584.4,556.6 586.8,556.4 C589.2,556.2 592.0,555.4 594.3,554.6 C596.6,553.8 598.6,552.7 600.6,551.6 C602.7,550.6 604.6,549.4 606.5,548.2 C608.4,547.1 610.2,545.8 612.0,544.6 C613.9,543.4 615.7,542.2 617.5,541.0 C619.3,539.8 621.1,538.6 623.0,537.5 C624.8,536.4 626.7,535.4 628.6,534.4 C630.5,533.5 632.5,532.6 634.5,531.9 C636.6,531.3 638.7,530.6 641.0,530.4 C643.3,530.2 646.0,530.3 648.5,530.8 C650.9,531.2 653.3,532.1 655.5,533.0 C657.7,533.8 659.7,534.9 661.7,536.0 C663.7,537.1 665.5,538.3 667.4,539.5 C669.3,540.8 671.1,542.0 672.9,543.3 C674.7,544.6 676.5,545.9 678.3,547.1 C680.0,548.4 681.8,549.7 683.6,550.9 C685.4,552.1 687.2,553.3 689.0,554.5 C690.8,555.6 692.6,556.7 694.5,557.7 C696.4,558.6 698.4,559.6 700.4,560.3 C702.4,561.1 704.5,561.7 706.7,562.0 C709.0,562.4 711.5,562.5 713.9,562.2 C716.3,561.9 718.9,561.0 721.2,560.2 C723.5,559.4 725.5,558.4 727.6,557.5 C729.6,556.5 731.6,555.5 733.5,554.4 C735.5,553.3 737.4,552.2 739.3,551.0 C741.2,549.7 743.0,548.5 744.8,547.1 C746.6,545.7 748.3,544.3 750.0,542.7 C751.7,541.2 753.3,539.6 754.9,537.9 C756.5,536.2 758.0,534.4 759.5,532.6 C760.9,530.7 762.4,528.8 763.7,526.9 C765.1,524.9 766.4,522.8 767.7,520.7 C769.0,518.6 770.3,516.5 771.5,514.3 C772.7,512.1 773.8,509.8 775.0,507.5 C776.1,505.2 777.2,502.9 778.3,500.5 C779.4,498.1 780.4,495.7 781.4,493.2 C782.4,490.8 783.4,488.3 784.4,485.8 C785.3,483.2 786.3,480.7 787.2,478.1 C788.1,475.5 789.0,472.9 789.9,470.2 C790.8,467.6 791.6,464.9 792.5,462.2 C793.3,459.5 794.1,456.8 794.9,454.1 C795.7,451.3 796.5,448.6 797.3,445.8 C798.1,443.1 798.8,440.3 799.6,437.5 C800.3,434.8 801.1,432.0 801.8,429.2 C802.5,426.4 803.3,423.7 804.0,420.9 C804.7,418.1 805.5,415.4 806.2,412.6 C806.9,409.9 807.7,407.1 808.4,404.4 C809.2,401.7 809.9,399.0 810.7,396.3 C811.4,393.6 812.2,390.9 812.9,388.3 C813.7,385.6 814.5,383.0 815.3,380.4 C816.1,377.8 816.9,375.2 817.7,372.6 C818.5,370.1 819.4,367.5 820.2,365.1 C821.1,362.6 822.0,360.1 822.9,357.7 C823.8,355.3 824.7,352.9 825.7,350.6 C826.6,348.3 827.6,346.1 828.6,343.9 C829.7,341.8 830.8,339.7 831.9,337.7 C833.0,335.7 834.2,333.7 835.5,332.0 C836.7,330.2 838.0,328.5 839.5,327.0 C840.9,325.5 842.4,324.1 844.1,323.1 C845.8,322.1 847.5,321.2 849.6,320.9 C851.8,320.7 854.6,321.1 856.8,321.9 C859.1,322.7 861.2,324.3 863.0,325.8 C864.9,327.3 866.5,329.0 868.1,330.8 C869.7,332.6 871.1,334.5 872.5,336.4 C873.9,338.4 875.3,340.4 876.6,342.5 C877.9,344.6 879.1,346.7 880.4,348.8 C881.6,351.0 882.8,353.2 884.0,355.4 C885.1,357.6 886.3,359.8 887.4,362.1 C888.6,364.3 889.7,366.6 890.8,368.9 C891.9,371.2 892.9,373.5 894.0,375.8 C895.1,378.1 896.1,380.4 897.2,382.8 C898.2,385.1 899.3,387.4 900.3,389.7 C901.4,392.0 902.4,394.3 903.5,396.6 C904.5,398.9 905.6,401.1 906.6,403.4 C907.7,405.6 908.8,407.8 909.9,410.0 C911.0,412.2 912.1,414.3 913.2,416.5 C914.4,418.6 915.5,420.7 916.7,422.9 C917.9,425.0 919.0,427.1 920.2,429.2 C921.4,431.2 922.6,433.3 923.8,435.4 C925.0,437.5 926.2,439.5 927.4,441.5 C928.6,443.6 929.9,445.6 931.1,447.6 C932.3,449.6 933.6,451.6 934.9,453.5 C936.1,455.5 937.4,457.4 938.7,459.4 C940.0,461.3 941.3,463.2 942.6,465.0 C944.0,466.9 945.3,468.7 946.7,470.6 C948.0,472.4 949.4,474.2 950.8,475.9 C952.2,477.7 953.6,479.4 955.0,481.2 C956.5,482.9 957.9,484.6 959.4,486.3 C960.8,488.0 962.3,489.8 963.8,491.5 C965.2,493.2 966.7,494.9 968.1,496.7 C969.6,498.4 971.1,500.1 972.5,501.9 C974.0,503.7 975.4,505.5 976.8,507.3 C978.2,509.1 979.6,511.0 981.0,512.8 C982.4,514.6 983.8,516.5 985.2,518.3 C986.6,520.1 988.0,522.0 989.4,523.8 C990.7,525.7 992.1,527.5 993.5,529.3 C994.9,531.2 996.2,533.0 997.6,534.8 C999.0,536.6 1000.4,538.4 1001.8,540.1 C1003.2,541.9 1004.7,543.6 1006.1,545.4 C1007.5,547.1 1009.0,548.8 1010.4,550.5 C1011.9,552.2 1013.4,553.9 1014.8,555.5 C1016.3,557.1 1017.8,558.7 1019.4,560.3 C1020.9,561.9 1022.4,563.5 1024.0,565.0 C1025.6,566.5 1027.2,568.0 1028.8,569.4 C1030.4,570.8 1032.0,572.2 1033.7,573.6 C1035.4,574.9 1037.1,576.2 1038.8,577.5 C1040.6,578.7 1042.3,579.9 1044.2,581.0 C1046.0,582.1 1047.8,583.2 1049.8,584.1 C1051.7,585.1 1053.6,585.9 1055.7,586.7 C1057.7,587.4 1059.9,588.1 1062.0,588.6 C1064.2,589.2 1066.5,589.6 1068.8,590.0 C1071.2,590.4 1073.6,590.7 1076.0,590.9 C1078.5,591.1 1081.0,591.3 1083.6,591.4 C1086.1,591.6 1088.7,591.6 1091.3,591.8 C1093.9,592.0 1096.7,592.2 1099.0,592.4 C1101.3,592.6 1104.0,592.9 1105.0,593.0" stroke="#ff0a00" stroke-width="7.5" stroke-linecap="round"/>
</g>
<path d="M299,594.2 H1589" stroke="#000" stroke-width="3.6"/>
<path d="M1133,211 H1318" stroke="#9410ff" stroke-width="4"/>
<path d="M1133,308.5 H1318" stroke="#ff1aff" stroke-width="4"/>
<path d="M1131,408 H1315" stroke="#ff9000" stroke-width="4"/>
<path d="M1131,507 H1315" stroke="#ff0a00" stroke-width="4"/>
<path d="M1131,711 H1315" stroke="#008a00" stroke-width="4"/>
<path d="M1133,811 H1318" stroke="#0514ff" stroke-width="4"/>
<path d="M1131,911 H1315" stroke="#000" stroke-width="4"/>
<path d="M1131,1006 H1315" stroke="#000" stroke-width="4.2" stroke-dasharray="4.8 4.3"/>
<text transform="translate(174.48,78.69) scale(1.0386,1.0070)" font-size="80">30</text>
<text transform="translate(174.90,264.39) scale(1.0244,1.0088)" font-size="80">20</text>
<text transform="translate(176.11,441.50) scale(1.0127,1.0017)" font-size="80"><tspan style="font-family:'Noto Sans CJK SC'">1</tspan>0</text>
<text transform="translate(221.64,627.08) scale(1.0184,1.0158)" font-size="80">0</text>
<text transform="translate(129.60,813.02) scale(1.0354,0.9767)" font-size="80">&#8211;<tspan style="font-family:'Noto Sans CJK SC'">1</tspan>0</text>
<text transform="translate(129.60,993.79) scale(1.0354,1.0140)" font-size="80">&#8211;20</text>
<text transform="translate(129.60,1175.08) scale(1.0300,1.0211)" font-size="80">&#8211;30</text>
<text transform="translate(1626.78,497.60) scale(1.1056,1.0196)" font-size="80">2</text>
<text transform="translate(1630.52,939.50) scale(0.6969,1.0088)" font-size="80"><tspan style="font-family:'Noto Sans CJK SC'">1</tspan></text>
<text transform="translate(1628.23,1355.79) scale(1.0553,1.0140)" font-size="80">0</text>
<text transform="translate(282.19,1431.97) scale(1.0362,1.0281)" font-size="80">300</text>
<text transform="translate(782.84,1431.96) scale(1.0312,1.0351)" font-size="80">400</text>
<text transform="translate(1282.69,1431.97) scale(1.0362,1.0281)" font-size="80">500</text>
<text transform="translate(678.40,1534.98) scale(0.9977,1.0013)" font-size="82">Wavelength (nm)</text>
<text transform="translate(1410.01,136.00) scale(0.9872,0.9767)" font-size="82">x</text>
<text transform="translate(1348.77,236.39) scale(1.0105,1.0086)" font-size="82">0.06</text>
<text transform="translate(1348.79,335.89) scale(1.0039,1.0103)" font-size="82">0.09</text>
<text transform="translate(1348.99,434.92) scale(0.9358,0.9847)" font-size="82">0.2<tspan style="font-family:'Noto Sans CJK SC'">1</tspan></text>
<text transform="translate(1348.78,534.89) scale(1.0072,1.0103)" font-size="82">0.36</text>
<text transform="translate(1348.78,734.38) scale(1.0072,1.0190)" font-size="82">0.45</text>
<text transform="translate(1348.78,834.38) scale(1.0071,1.0190)" font-size="82">0.64</text>
<text transform="translate(1348.99,934.40) scale(0.9358,1.0017)" font-size="82">0.7<tspan style="font-family:'Noto Sans CJK SC'">1</tspan></text>
<text transform="translate(1350.24,1034.00) scale(0.9946,1.0034)" font-size="82"><tspan style="font-family:'Noto Sans CJK SC'">1</tspan>.00</text>
<text transform="translate(82.90,838.76) scale(1.0286,1.1184) rotate(-90)" font-size="82">&#916;</text>
<text transform="translate(83.39,775.17) scale(1.0067,1.2219) rotate(-90)" font-size="82">&#949;</text>
<text transform="translate(83.13,709.80) scale(1.0158,0.9000) rotate(-90)" font-size="82">(</text>
<text transform="translate(83.20,685.06) scale(1.0625,1.0370) rotate(-90)" font-size="82">M</text>
<text transform="translate(62.60,615.45) scale(1.0103,0.8256) rotate(-90)" font-size="55">-<tspan style="font-family:'Noto Sans CJK SC'">1</tspan></text>
<text transform="translate(83.29,553.44) scale(1.0089,1.0090) rotate(-90)" font-size="82">cm</text>
<text transform="translate(62.40,443.16) scale(1.0026,0.8302) rotate(-90)" font-size="55">-<tspan style="font-family:'Noto Sans CJK SC'">1</tspan></text>
<text transform="translate(82.92,378.09) scale(1.0105,0.8857) rotate(-90)" font-size="82">)</text>
<text transform="translate(1792.38,1223.37) scale(1.0178,1.2219) rotate(-90)" font-size="82">&#949;</text>
<text transform="translate(1799.88,1159.92) scale(1.0972,1.0861) rotate(-90)" font-size="82">&#215;</text>
<text transform="translate(1792.19,1087.57) scale(1.0085,0.9815) rotate(-90)" font-size="82"><tspan style="font-family:'Noto Sans CJK SC'">1</tspan>0</text>
<text transform="translate(1770.30,998.00) scale(1.0237,1.0022) rotate(-90)" font-size="55">-4</text>
<text transform="translate(1790.91,924.91) scale(1.0171,0.8619) rotate(-90)" font-size="82">(</text>
<text transform="translate(1791.90,901.54) scale(1.0786,1.0630) rotate(-90)" font-size="82">M</text>
<text transform="translate(1770.70,831.45) scale(1.0051,0.8233) rotate(-90)" font-size="55">-<tspan style="font-family:'Noto Sans CJK SC'">1</tspan></text>
<text transform="translate(1792.36,763.29) scale(1.0378,1.0230) rotate(-90)" font-size="82">cm</text>
<text transform="translate(1770.50,651.24) scale(1.0026,0.8209) rotate(-90)" font-size="55">-<tspan style="font-family:'Noto Sans CJK SC'">1</tspan></text>
<text transform="translate(1791.63,601.89) scale(1.0276,0.8857) rotate(-90)" font-size="82">)</text>
</svg></body></html>
